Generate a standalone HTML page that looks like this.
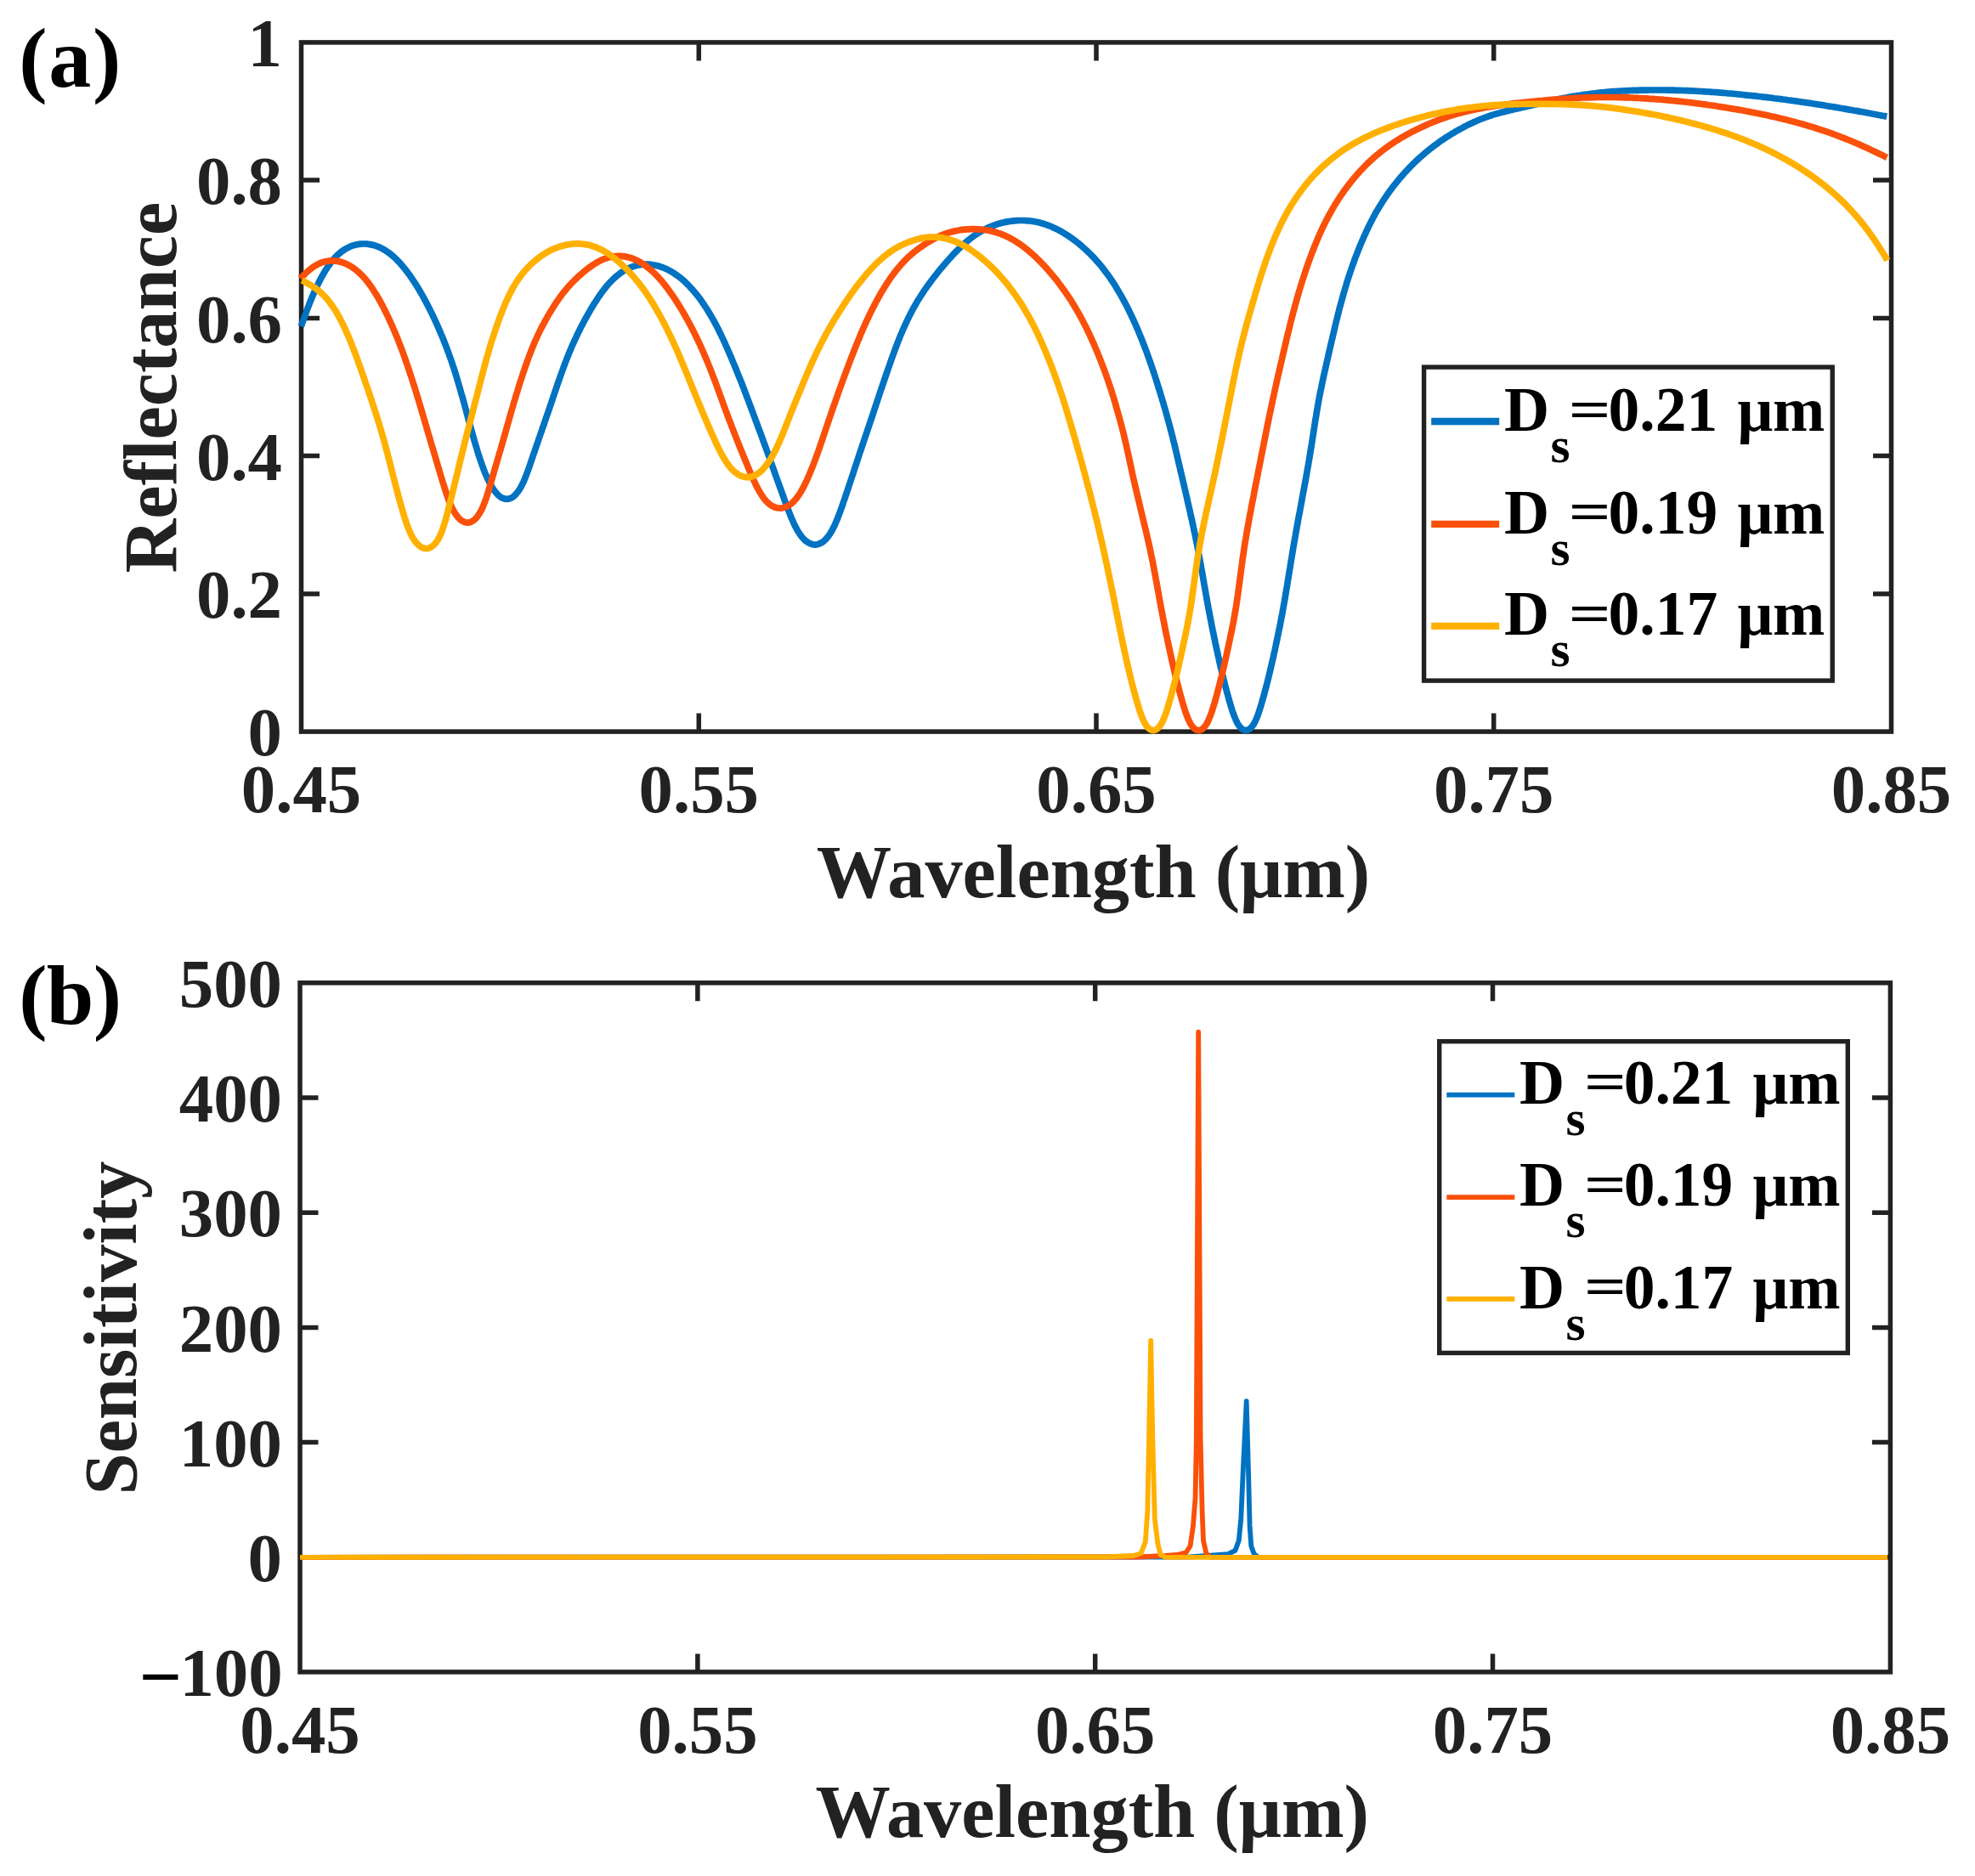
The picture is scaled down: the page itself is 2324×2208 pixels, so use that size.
<!DOCTYPE html>
<html lang="en"><head><meta charset="utf-8"><title>Reflectance and sensitivity</title>
<style>html,body{margin:0;padding:0;background:#fff}svg{display:block} text{font-family:"Liberation Serif", "DejaVu Serif", serif;font-weight:bold}</style></head><body>
<svg width="2324" height="2208" viewBox="0 0 2324 2208">
<rect width="2324" height="2208" fill="#fff"/>
<g stroke="#222222" stroke-width="5.5" fill="none" stroke-linecap="butt">
<rect x="354.5" y="49.9" width="1871.0" height="811.2"/>
<path d="M822.3,861.1 V839.6 M822.3,49.9 V71.4"/>
<path d="M1290.0,861.1 V839.6 M1290.0,49.9 V71.4"/>
<path d="M1757.7,861.1 V839.6 M1757.7,49.9 V71.4"/>
<path d="M354.5,698.9 H376.0 M2225.5,698.9 H2204.0"/>
<path d="M354.5,536.6 H376.0 M2225.5,536.6 H2204.0"/>
<path d="M354.5,374.4 H376.0 M2225.5,374.4 H2204.0"/>
<path d="M354.5,212.1 H376.0 M2225.5,212.1 H2204.0"/>
</g>
<g fill="#222222" font-size="80.8">
<text x="354.5" y="956.1" text-anchor="middle">0.45</text>
<text x="822.3" y="956.1" text-anchor="middle">0.55</text>
<text x="1290.0" y="956.1" text-anchor="middle">0.65</text>
<text x="1757.7" y="956.1" text-anchor="middle">0.75</text>
<text x="2225.5" y="956.1" text-anchor="middle">0.85</text>
<text x="332" y="889.3" text-anchor="end">0</text>
<text x="332" y="727.1" text-anchor="end">0.2</text>
<text x="332" y="564.8" text-anchor="end">0.4</text>
<text x="332" y="402.6" text-anchor="end">0.6</text>
<text x="332" y="240.3" text-anchor="end">0.8</text>
<text x="332" y="78.1" text-anchor="end">1</text>
</g>
<g fill="#222222" font-size="88.4">
<text x="1286.5" y="1055.6" text-anchor="middle">Wavelength (μm)</text>
<text transform="translate(207,456.2) rotate(-90)" text-anchor="middle">Reflectance</text>
</g>
<text x="22.2" y="101.5" font-size="100" letter-spacing="1.8" fill="#000">(a)</text>
<g fill="none" stroke-width="7.7" stroke-linejoin="round" stroke-linecap="butt">
<path stroke="#0072C2" d="M354.3,384.1 L355.2,381.6 L356.1,379.2 L357.0,376.7 L357.9,374.2 L358.8,371.7 L359.7,369.2 L360.6,366.8 L361.5,364.3 L362.4,361.8 L363.4,359.4 L364.3,356.9 L365.3,354.5 L366.3,352.0 L367.3,349.6 L368.4,347.1 L369.4,344.7 L370.5,342.3 L371.6,339.9 L372.7,337.5 L373.9,335.1 L375.0,332.7 L376.2,330.3 L377.5,327.9 L378.7,325.6 L380.0,323.3 L381.4,320.9 L382.7,318.7 L384.2,316.4 L385.6,314.2 L387.2,312.0 L388.7,309.8 L390.3,307.7 L392.0,305.6 L393.8,303.7 L395.6,301.7 L397.5,299.9 L399.4,298.2 L401.4,296.5 L403.5,295.0 L405.7,293.5 L407.9,292.2 L410.2,291.1 L412.5,290.0 L414.9,289.1 L417.4,288.4 L419.9,287.8 L422.4,287.4 L424.9,287.1 L427.5,287.0 L430.0,287.0 L432.6,287.2 L435.1,287.6 L437.7,288.1 L440.2,288.7 L442.6,289.5 L445.0,290.4 L447.4,291.4 L449.8,292.6 L452.0,293.9 L454.3,295.3 L456.4,296.8 L458.6,298.3 L460.6,300.0 L462.6,301.7 L464.6,303.5 L466.5,305.3 L468.4,307.2 L470.2,309.2 L472.0,311.2 L473.7,313.2 L475.4,315.2 L477.1,317.3 L478.7,319.4 L480.3,321.6 L481.9,323.7 L483.4,325.9 L484.9,328.1 L486.4,330.3 L487.8,332.5 L489.3,334.7 L490.7,337.0 L492.1,339.2 L493.4,341.5 L494.8,343.8 L496.1,346.1 L497.4,348.4 L498.7,350.7 L499.9,353.0 L501.2,355.3 L502.4,357.7 L503.6,360.0 L504.8,362.3 L506.0,364.7 L507.2,367.1 L508.3,369.4 L509.5,371.8 L510.6,374.2 L511.7,376.6 L512.8,379.0 L513.9,381.4 L515.0,383.8 L516.0,386.2 L517.1,388.6 L518.1,391.0 L519.1,393.5 L520.2,395.9 L521.2,398.3 L522.2,400.8 L523.1,403.2 L524.1,405.7 L525.1,408.1 L526.0,410.6 L526.9,413.1 L527.8,415.5 L528.7,418.0 L529.6,420.5 L530.5,423.0 L531.4,425.5 L532.2,428.0 L533.0,430.5 L533.9,433.0 L534.7,435.5 L535.5,438.0 L536.2,440.5 L537.0,443.0 L537.8,445.5 L538.5,448.1 L539.3,450.6 L540.0,453.1 L540.8,455.7 L541.5,458.2 L542.2,460.7 L542.9,463.3 L543.7,465.8 L544.4,468.3 L545.1,470.9 L545.8,473.4 L546.5,476.0 L547.2,478.5 L547.9,481.0 L548.6,483.6 L549.2,486.1 L549.9,488.7 L550.6,491.2 L551.3,493.8 L552.0,496.3 L552.7,498.8 L553.4,501.4 L554.1,503.9 L554.8,506.5 L555.5,509.0 L556.2,511.5 L556.9,514.1 L557.6,516.6 L558.3,519.1 L559.1,521.7 L559.8,524.2 L560.6,526.7 L561.4,529.3 L562.1,531.8 L562.9,534.3 L563.7,536.9 L564.6,539.4 L565.4,541.9 L566.3,544.5 L567.2,547.0 L568.1,549.6 L569.0,552.1 L570.0,554.7 L571.0,557.2 L572.1,559.7 L573.1,562.2 L574.3,564.7 L575.5,567.1 L576.7,569.5 L578.1,571.9 L579.5,574.2 L580.9,576.4 L582.5,578.5 L584.2,580.5 L585.9,582.4 L587.8,584.0 L589.7,585.4 L591.8,586.4 L593.9,587.1 L596.0,587.4 L598.2,587.2 L600.3,586.6 L602.3,585.7 L604.2,584.4 L606.0,582.8 L607.7,580.9 L609.3,578.9 L610.8,576.8 L612.2,574.6 L613.5,572.2 L614.7,569.8 L615.9,567.4 L617.0,564.9 L618.0,562.3 L619.0,559.8 L620.0,557.2 L620.9,554.7 L621.9,552.1 L622.8,549.5 L623.7,546.9 L624.5,544.4 L625.4,541.8 L626.3,539.3 L627.1,536.8 L628.0,534.2 L628.9,531.7 L629.7,529.2 L630.6,526.7 L631.4,524.2 L632.3,521.7 L633.2,519.2 L634.0,516.7 L634.9,514.2 L635.7,511.7 L636.6,509.2 L637.5,506.7 L638.3,504.2 L639.2,501.8 L640.1,499.3 L640.9,496.8 L641.8,494.3 L642.6,491.8 L643.5,489.3 L644.4,486.8 L645.2,484.3 L646.1,481.9 L646.9,479.4 L647.8,476.9 L648.6,474.4 L649.5,471.9 L650.3,469.4 L651.1,466.9 L652.0,464.4 L652.8,461.9 L653.7,459.4 L654.5,456.9 L655.4,454.4 L656.2,451.9 L657.1,449.4 L658.0,446.9 L658.8,444.4 L659.7,441.9 L660.6,439.5 L661.5,437.0 L662.4,434.5 L663.3,432.0 L664.2,429.6 L665.1,427.1 L666.1,424.6 L667.0,422.2 L668.0,419.7 L669.0,417.3 L669.9,414.8 L671.0,412.4 L672.0,410.0 L673.0,407.6 L674.1,405.2 L675.2,402.8 L676.2,400.4 L677.4,398.0 L678.5,395.6 L679.6,393.2 L680.8,390.9 L682.0,388.5 L683.1,386.2 L684.3,383.8 L685.6,381.5 L686.8,379.1 L688.0,376.8 L689.3,374.5 L690.6,372.2 L691.9,369.9 L693.2,367.6 L694.5,365.3 L695.8,363.0 L697.2,360.8 L698.5,358.5 L699.9,356.3 L701.4,354.1 L702.8,351.9 L704.3,349.7 L705.8,347.5 L707.3,345.3 L708.9,343.2 L710.4,341.1 L712.1,339.0 L713.7,337.0 L715.4,335.0 L717.2,333.0 L719.0,331.1 L720.9,329.2 L722.8,327.4 L724.7,325.6 L726.8,323.9 L728.8,322.3 L731.0,320.7 L733.2,319.3 L735.4,318.0 L737.8,316.7 L740.1,315.6 L742.5,314.6 L745.0,313.7 L747.5,312.9 L750.1,312.3 L752.6,311.8 L755.2,311.4 L757.8,311.2 L760.4,311.2 L763.1,311.2 L765.7,311.4 L768.3,311.7 L770.9,312.2 L773.4,312.8 L776.0,313.5 L778.4,314.3 L780.9,315.2 L783.3,316.2 L785.7,317.4 L788.0,318.6 L790.3,319.9 L792.5,321.2 L794.7,322.7 L796.9,324.2 L799.0,325.8 L801.1,327.4 L803.1,329.1 L805.1,330.8 L807.0,332.6 L808.9,334.5 L810.7,336.4 L812.5,338.3 L814.3,340.3 L816.0,342.3 L817.7,344.3 L819.4,346.3 L821.1,348.4 L822.7,350.5 L824.2,352.6 L825.8,354.8 L827.3,357.0 L828.8,359.2 L830.2,361.4 L831.7,363.6 L833.1,365.8 L834.4,368.1 L835.8,370.3 L837.1,372.6 L838.4,374.9 L839.7,377.2 L841.0,379.5 L842.2,381.9 L843.5,384.2 L844.7,386.5 L845.9,388.9 L847.0,391.3 L848.2,393.6 L849.3,396.0 L850.4,398.4 L851.6,400.8 L852.7,403.2 L853.7,405.6 L854.8,408.0 L855.9,410.4 L856.9,412.8 L858.0,415.2 L859.0,417.7 L860.1,420.1 L861.1,422.5 L862.1,424.9 L863.1,427.4 L864.1,429.8 L865.2,432.2 L866.2,434.7 L867.1,437.1 L868.1,439.6 L869.1,442.0 L870.1,444.4 L871.1,446.9 L872.1,449.3 L873.0,451.8 L874.0,454.3 L874.9,456.7 L875.9,459.2 L876.8,461.6 L877.8,464.1 L878.7,466.6 L879.6,469.0 L880.6,471.5 L881.5,474.0 L882.4,476.4 L883.3,478.9 L884.2,481.4 L885.2,483.8 L886.1,486.3 L887.0,488.8 L887.9,491.2 L888.8,493.7 L889.8,496.2 L890.7,498.7 L891.6,501.1 L892.5,503.6 L893.4,506.1 L894.4,508.5 L895.3,511.0 L896.2,513.5 L897.1,515.9 L898.0,518.4 L898.9,520.9 L899.8,523.4 L900.7,525.8 L901.6,528.3 L902.5,530.8 L903.4,533.3 L904.3,535.7 L905.2,538.2 L906.1,540.7 L906.9,543.2 L907.8,545.7 L908.7,548.1 L909.6,550.6 L910.5,553.1 L911.4,555.6 L912.2,558.1 L913.1,560.5 L914.0,563.0 L914.9,565.5 L915.8,568.0 L916.7,570.5 L917.6,572.9 L918.5,575.4 L919.4,577.9 L920.3,580.4 L921.2,582.9 L922.1,585.4 L923.0,587.9 L923.9,590.5 L924.8,593.0 L925.8,595.5 L926.7,598.0 L927.7,600.6 L928.7,603.1 L929.7,605.7 L930.7,608.2 L931.8,610.7 L932.9,613.3 L934.0,615.8 L935.2,618.3 L936.5,620.7 L937.7,623.1 L939.1,625.5 L940.5,627.7 L942.0,629.9 L943.6,632.0 L945.3,633.9 L947.1,635.7 L949.0,637.3 L951.0,638.6 L953.0,639.7 L955.2,640.5 L957.3,641.0 L959.5,641.1 L961.7,640.8 L963.9,640.1 L966.0,639.1 L968.0,637.9 L969.9,636.4 L971.7,634.7 L973.3,632.8 L974.9,630.8 L976.4,628.6 L977.8,626.4 L979.2,624.0 L980.4,621.6 L981.7,619.2 L982.8,616.7 L983.9,614.1 L985.0,611.6 L986.0,609.0 L987.0,606.4 L988.0,603.9 L988.9,601.3 L989.8,598.7 L990.8,596.2 L991.7,593.6 L992.5,591.0 L993.4,588.5 L994.3,586.0 L995.1,583.4 L996.0,580.9 L996.8,578.4 L997.7,575.9 L998.5,573.3 L999.3,570.8 L1000.2,568.3 L1001.0,565.8 L1001.8,563.3 L1002.7,560.8 L1003.5,558.3 L1004.3,555.8 L1005.1,553.3 L1005.9,550.8 L1006.8,548.3 L1007.6,545.8 L1008.4,543.3 L1009.2,540.8 L1010.1,538.3 L1010.9,535.9 L1011.7,533.4 L1012.5,530.9 L1013.4,528.4 L1014.2,525.9 L1015.1,523.4 L1015.9,520.9 L1016.7,518.4 L1017.6,515.9 L1018.4,513.4 L1019.3,510.9 L1020.1,508.4 L1021.0,505.9 L1021.8,503.4 L1022.7,500.9 L1023.5,498.4 L1024.3,495.9 L1025.2,493.4 L1026.0,490.9 L1026.9,488.4 L1027.7,485.9 L1028.5,483.4 L1029.3,480.9 L1030.2,478.4 L1031.0,475.9 L1031.8,473.4 L1032.7,470.9 L1033.5,468.4 L1034.3,465.9 L1035.1,463.4 L1036.0,460.9 L1036.8,458.4 L1037.7,455.9 L1038.5,453.4 L1039.4,450.9 L1040.2,448.4 L1041.1,445.9 L1041.9,443.4 L1042.8,440.9 L1043.6,438.4 L1044.5,435.9 L1045.3,433.4 L1046.2,431.0 L1047.1,428.5 L1047.9,426.0 L1048.8,423.5 L1049.7,421.0 L1050.6,418.5 L1051.5,416.0 L1052.4,413.6 L1053.3,411.1 L1054.2,408.6 L1055.2,406.2 L1056.1,403.7 L1057.1,401.3 L1058.1,398.8 L1059.0,396.4 L1060.0,393.9 L1061.1,391.5 L1062.1,389.1 L1063.1,386.7 L1064.2,384.3 L1065.3,381.9 L1066.4,379.5 L1067.5,377.1 L1068.7,374.7 L1069.8,372.4 L1071.0,370.0 L1072.2,367.7 L1073.5,365.4 L1074.7,363.0 L1076.0,360.8 L1077.3,358.5 L1078.6,356.2 L1079.9,353.9 L1081.3,351.7 L1082.7,349.5 L1084.1,347.3 L1085.6,345.1 L1087.0,342.9 L1088.5,340.7 L1090.0,338.6 L1091.5,336.4 L1093.1,334.3 L1094.6,332.2 L1096.2,330.0 L1097.8,327.9 L1099.4,325.9 L1101.0,323.8 L1102.7,321.7 L1104.3,319.6 L1106.0,317.6 L1107.7,315.6 L1109.4,313.5 L1111.1,311.5 L1112.8,309.5 L1114.5,307.5 L1116.3,305.5 L1118.0,303.6 L1119.8,301.6 L1121.6,299.7 L1123.4,297.7 L1125.3,295.8 L1127.1,294.0 L1129.0,292.1 L1130.9,290.3 L1132.8,288.5 L1134.8,286.7 L1136.8,285.0 L1138.8,283.3 L1140.8,281.6 L1142.9,280.0 L1145.0,278.4 L1147.2,276.9 L1149.4,275.4 L1151.6,274.0 L1153.8,272.6 L1156.1,271.3 L1158.4,270.1 L1160.8,268.9 L1163.1,267.8 L1165.6,266.8 L1168.0,265.8 L1170.5,264.9 L1173.0,264.0 L1175.5,263.2 L1178.0,262.5 L1180.6,261.9 L1183.1,261.4 L1185.7,260.9 L1188.3,260.5 L1190.9,260.1 L1193.6,259.9 L1196.2,259.7 L1198.8,259.5 L1201.5,259.5 L1204.1,259.5 L1206.7,259.6 L1209.4,259.8 L1212.0,260.0 L1214.6,260.4 L1217.2,260.8 L1219.8,261.3 L1222.3,261.8 L1224.9,262.5 L1227.4,263.2 L1229.9,264.0 L1232.4,264.9 L1234.9,265.8 L1237.3,266.8 L1239.7,267.9 L1242.1,269.0 L1244.4,270.2 L1246.8,271.4 L1249.1,272.7 L1251.4,274.0 L1253.6,275.4 L1255.8,276.8 L1258.0,278.3 L1260.2,279.8 L1262.3,281.3 L1264.5,282.9 L1266.6,284.5 L1268.6,286.1 L1270.7,287.8 L1272.7,289.5 L1274.7,291.3 L1276.6,293.0 L1278.6,294.8 L1280.5,296.6 L1282.4,298.5 L1284.2,300.3 L1286.1,302.2 L1287.9,304.2 L1289.6,306.1 L1291.4,308.1 L1293.1,310.1 L1294.8,312.1 L1296.5,314.1 L1298.1,316.2 L1299.7,318.3 L1301.3,320.4 L1302.9,322.5 L1304.4,324.6 L1306.0,326.8 L1307.4,329.0 L1308.9,331.1 L1310.4,333.3 L1311.8,335.6 L1313.2,337.8 L1314.5,340.1 L1315.9,342.3 L1317.2,344.6 L1318.6,346.9 L1319.9,349.2 L1321.1,351.5 L1322.4,353.8 L1323.6,356.1 L1324.9,358.5 L1326.1,360.8 L1327.3,363.2 L1328.4,365.5 L1329.6,367.9 L1330.7,370.3 L1331.9,372.7 L1333.0,375.0 L1334.1,377.4 L1335.2,379.8 L1336.3,382.3 L1337.3,384.7 L1338.4,387.1 L1339.4,389.5 L1340.4,391.9 L1341.4,394.4 L1342.4,396.8 L1343.4,399.3 L1344.4,401.7 L1345.3,404.2 L1346.3,406.6 L1347.2,409.1 L1348.2,411.6 L1349.1,414.0 L1350.0,416.5 L1350.9,419.0 L1351.8,421.5 L1352.6,423.9 L1353.5,426.4 L1354.4,428.9 L1355.2,431.4 L1356.1,433.9 L1356.9,436.4 L1357.8,438.9 L1358.6,441.4 L1359.4,443.9 L1360.2,446.4 L1361.0,448.9 L1361.8,451.5 L1362.6,454.0 L1363.4,456.5 L1364.2,459.0 L1365.0,461.5 L1365.7,464.0 L1366.5,466.6 L1367.3,469.1 L1368.0,471.6 L1368.8,474.1 L1369.5,476.7 L1370.2,479.2 L1371.0,481.7 L1371.7,484.3 L1372.4,486.8 L1373.1,489.3 L1373.8,491.9 L1374.5,494.4 L1375.2,497.0 L1375.9,499.5 L1376.6,502.1 L1377.2,504.6 L1377.9,507.2 L1378.6,509.7 L1379.2,512.3 L1379.9,514.8 L1380.5,517.4 L1381.1,519.9 L1381.8,522.5 L1382.4,525.0 L1383.0,527.6 L1383.6,530.2 L1384.2,532.7 L1384.8,535.3 L1385.4,537.9 L1386.0,540.4 L1386.6,543.0 L1387.2,545.6 L1387.8,548.1 L1388.4,550.7 L1389.0,553.3 L1389.6,555.8 L1390.2,558.4 L1390.8,561.0 L1391.4,563.5 L1392.0,566.1 L1392.6,568.7 L1393.2,571.2 L1393.8,573.8 L1394.4,576.4 L1395.0,578.9 L1395.6,581.5 L1396.2,584.1 L1396.8,586.6 L1397.3,589.2 L1397.9,591.8 L1398.5,594.4 L1399.1,596.9 L1399.7,599.5 L1400.3,602.1 L1400.8,604.6 L1401.4,607.2 L1402.0,609.8 L1402.6,612.4 L1403.1,614.9 L1403.7,617.5 L1404.2,620.1 L1404.8,622.7 L1405.3,625.2 L1405.9,627.8 L1406.4,630.4 L1406.9,633.0 L1407.4,635.6 L1408.0,638.1 L1408.5,640.7 L1409.0,643.3 L1409.5,645.9 L1409.9,648.5 L1410.4,651.1 L1410.9,653.7 L1411.4,656.3 L1411.9,658.9 L1412.3,661.5 L1412.8,664.0 L1413.3,666.6 L1413.7,669.2 L1414.2,671.8 L1414.7,674.4 L1415.1,677.0 L1415.6,679.6 L1416.0,682.2 L1416.5,684.8 L1416.9,687.4 L1417.4,690.0 L1417.8,692.6 L1418.3,695.2 L1418.8,697.8 L1419.2,700.4 L1419.7,703.0 L1420.1,705.6 L1420.6,708.2 L1421.1,710.8 L1421.6,713.4 L1422.0,715.9 L1422.5,718.5 L1423.0,721.1 L1423.5,723.7 L1424.0,726.3 L1424.5,728.9 L1425.0,731.5 L1425.5,734.1 L1426.0,736.7 L1426.5,739.2 L1427.0,741.8 L1427.6,744.4 L1428.1,747.0 L1428.6,749.6 L1429.2,752.1 L1429.7,754.7 L1430.2,757.3 L1430.8,759.9 L1431.3,762.5 L1431.9,765.0 L1432.5,767.6 L1433.0,770.2 L1433.6,772.8 L1434.2,775.3 L1434.7,777.9 L1435.3,780.5 L1435.9,783.0 L1436.5,785.6 L1437.1,788.2 L1437.7,790.7 L1438.3,793.3 L1439.0,795.8 L1439.6,798.4 L1440.2,800.9 L1440.9,803.5 L1441.5,806.0 L1442.2,808.6 L1442.8,811.1 L1443.5,813.7 L1444.2,816.2 L1444.9,818.8 L1445.6,821.3 L1446.3,823.9 L1447.1,826.5 L1447.8,829.1 L1448.6,831.7 L1449.4,834.3 L1450.2,836.9 L1451.1,839.5 L1452.1,842.1 L1453.1,844.7 L1454.2,847.2 L1455.3,849.7 L1456.6,852.1 L1458.0,854.2 L1459.6,856.2 L1461.2,857.7 L1463.1,858.9 L1464.9,859.5 L1466.9,859.5 L1468.8,859.0 L1470.6,857.9 L1472.3,856.3 L1473.8,854.4 L1475.3,852.3 L1476.6,849.9 L1477.7,847.5 L1478.8,844.9 L1479.9,842.3 L1480.8,839.7 L1481.7,837.1 L1482.5,834.5 L1483.3,831.9 L1484.1,829.3 L1484.9,826.7 L1485.6,824.1 L1486.3,821.6 L1487.1,819.0 L1487.8,816.5 L1488.4,813.9 L1489.1,811.4 L1489.8,808.8 L1490.4,806.3 L1491.1,803.7 L1491.7,801.2 L1492.4,798.6 L1493.0,796.1 L1493.6,793.5 L1494.2,791.0 L1494.8,788.4 L1495.4,785.8 L1496.0,783.3 L1496.6,780.7 L1497.2,778.1 L1497.8,775.6 L1498.4,773.0 L1498.9,770.4 L1499.5,767.8 L1500.1,765.3 L1500.6,762.7 L1501.2,760.1 L1501.7,757.5 L1502.3,755.0 L1502.8,752.4 L1503.3,749.8 L1503.9,747.2 L1504.4,744.6 L1504.9,742.0 L1505.5,739.5 L1506.0,736.9 L1506.5,734.3 L1507.0,731.7 L1507.5,729.1 L1508.0,726.5 L1508.5,723.9 L1509.0,721.4 L1509.4,718.8 L1509.9,716.2 L1510.4,713.6 L1510.8,711.0 L1511.3,708.4 L1511.7,705.8 L1512.2,703.2 L1512.6,700.6 L1513.1,698.0 L1513.5,695.4 L1513.9,692.8 L1514.4,690.2 L1514.8,687.6 L1515.2,685.0 L1515.6,682.4 L1516.1,679.8 L1516.5,677.2 L1516.9,674.6 L1517.3,672.0 L1517.8,669.4 L1518.2,666.8 L1518.6,664.2 L1519.0,661.6 L1519.4,659.0 L1519.9,656.4 L1520.3,653.8 L1520.7,651.2 L1521.2,648.6 L1521.6,646.0 L1522.0,643.4 L1522.5,640.8 L1522.9,638.2 L1523.4,635.6 L1523.8,633.0 L1524.3,630.4 L1524.7,627.8 L1525.2,625.2 L1525.7,622.6 L1526.1,620.0 L1526.6,617.4 L1527.1,614.8 L1527.5,612.2 L1528.0,609.6 L1528.5,607.1 L1529.0,604.5 L1529.5,601.9 L1529.9,599.3 L1530.4,596.7 L1530.9,594.1 L1531.4,591.5 L1531.9,588.9 L1532.3,586.3 L1532.8,583.7 L1533.3,581.1 L1533.8,578.5 L1534.3,576.0 L1534.7,573.4 L1535.2,570.8 L1535.7,568.2 L1536.2,565.6 L1536.6,563.0 L1537.1,560.4 L1537.6,557.8 L1538.0,555.2 L1538.5,552.6 L1538.9,550.0 L1539.4,547.4 L1539.8,544.8 L1540.3,542.2 L1540.7,539.6 L1541.2,537.0 L1541.6,534.4 L1542.0,531.8 L1542.4,529.2 L1542.9,526.6 L1543.3,524.0 L1543.7,521.4 L1544.1,518.8 L1544.5,516.2 L1544.9,513.6 L1545.3,511.0 L1545.7,508.4 L1546.1,505.8 L1546.5,503.2 L1546.9,500.6 L1547.3,498.0 L1547.7,495.4 L1548.1,492.8 L1548.6,490.2 L1549.0,487.6 L1549.4,485.0 L1549.8,482.4 L1550.3,479.9 L1550.7,477.3 L1551.2,474.7 L1551.6,472.1 L1552.1,469.5 L1552.6,466.9 L1553.1,464.3 L1553.6,461.7 L1554.1,459.2 L1554.7,456.6 L1555.2,454.0 L1555.7,451.4 L1556.3,448.9 L1556.8,446.3 L1557.4,443.7 L1557.9,441.1 L1558.5,438.6 L1559.1,436.0 L1559.7,433.4 L1560.2,430.9 L1560.8,428.3 L1561.4,425.7 L1562.0,423.2 L1562.6,420.6 L1563.1,418.0 L1563.7,415.5 L1564.3,412.9 L1564.9,410.3 L1565.5,407.7 L1566.1,405.2 L1566.7,402.6 L1567.3,400.0 L1567.9,397.5 L1568.5,394.9 L1569.1,392.3 L1569.7,389.8 L1570.3,387.2 L1570.9,384.6 L1571.5,382.1 L1572.1,379.5 L1572.7,377.0 L1573.4,374.4 L1574.0,371.8 L1574.6,369.3 L1575.3,366.7 L1575.9,364.2 L1576.6,361.6 L1577.3,359.1 L1578.0,356.5 L1578.7,354.0 L1579.4,351.4 L1580.1,348.9 L1580.8,346.4 L1581.5,343.8 L1582.3,341.3 L1583.0,338.8 L1583.8,336.3 L1584.5,333.7 L1585.3,331.2 L1586.1,328.7 L1586.9,326.2 L1587.7,323.7 L1588.6,321.2 L1589.4,318.7 L1590.3,316.2 L1591.1,313.7 L1592.0,311.2 L1592.9,308.8 L1593.8,306.3 L1594.7,303.8 L1595.6,301.3 L1596.6,298.9 L1597.5,296.4 L1598.5,294.0 L1599.5,291.5 L1600.5,289.1 L1601.5,286.6 L1602.5,284.2 L1603.6,281.8 L1604.6,279.4 L1605.7,277.0 L1606.8,274.6 L1607.9,272.2 L1609.0,269.8 L1610.1,267.4 L1611.3,265.0 L1612.5,262.7 L1613.7,260.3 L1614.9,258.0 L1616.1,255.6 L1617.4,253.3 L1618.6,251.0 L1619.9,248.7 L1621.3,246.5 L1622.6,244.2 L1624.0,241.9 L1625.4,239.7 L1626.8,237.5 L1628.2,235.3 L1629.7,233.1 L1631.2,230.9 L1632.7,228.7 L1634.2,226.6 L1635.7,224.4 L1637.3,222.3 L1638.9,220.2 L1640.5,218.1 L1642.1,216.1 L1643.8,214.0 L1645.5,212.0 L1647.1,209.9 L1648.9,207.9 L1650.6,205.9 L1652.3,204.0 L1654.1,202.0 L1655.9,200.1 L1657.7,198.2 L1659.5,196.3 L1661.4,194.4 L1663.2,192.5 L1665.1,190.7 L1667.0,188.9 L1669.0,187.1 L1670.9,185.3 L1672.9,183.6 L1674.9,181.8 L1676.9,180.1 L1678.9,178.4 L1681.0,176.8 L1683.0,175.1 L1685.1,173.5 L1687.2,171.9 L1689.3,170.3 L1691.4,168.8 L1693.6,167.2 L1695.7,165.7 L1697.9,164.2 L1700.1,162.8 L1702.3,161.3 L1704.5,159.9 L1706.8,158.5 L1709.0,157.1 L1711.3,155.8 L1713.6,154.4 L1715.9,153.1 L1718.2,151.8 L1720.5,150.6 L1722.8,149.3 L1725.2,148.1 L1727.5,146.9 L1729.9,145.8 L1732.3,144.7 L1734.7,143.6 L1737.1,142.5 L1739.5,141.5 L1741.9,140.5 L1744.3,139.5 L1746.8,138.6 L1749.3,137.7 L1751.7,136.8 L1754.2,136.0 L1756.7,135.2 L1759.2,134.4 L1761.8,133.7 L1764.3,133.0 L1766.8,132.3 L1769.4,131.7 L1771.9,131.0 L1774.5,130.4 L1777.0,129.8 L1779.6,129.2 L1782.1,128.6 L1784.7,128.0 L1787.3,127.4 L1789.8,126.8 L1792.4,126.3 L1795.0,125.7 L1797.5,125.1 L1800.1,124.5 L1802.6,123.9 L1805.2,123.3 L1807.8,122.7 L1810.3,122.1 L1812.9,121.5 L1815.4,120.9 L1818.0,120.2 L1820.5,119.6 L1823.1,119.0 L1825.6,118.5 L1828.2,117.9 L1830.8,117.3 L1833.3,116.8 L1835.9,116.2 L1838.5,115.7 L1841.0,115.2 L1843.6,114.8 L1846.2,114.3 L1848.8,113.8 L1851.4,113.4 L1853.9,113.0 L1856.5,112.6 L1859.1,112.2 L1861.7,111.8 L1864.3,111.4 L1866.9,111.0 L1869.5,110.7 L1872.1,110.3 L1874.7,110.0 L1877.3,109.7 L1880.0,109.4 L1882.6,109.1 L1885.2,108.8 L1887.8,108.6 L1890.4,108.3 L1893.0,108.1 L1895.7,107.9 L1898.3,107.7 L1900.9,107.5 L1903.6,107.3 L1906.2,107.2 L1908.8,107.0 L1911.4,106.9 L1914.1,106.8 L1916.7,106.6 L1919.3,106.5 L1922.0,106.4 L1924.6,106.4 L1927.2,106.3 L1929.9,106.2 L1932.5,106.2 L1935.2,106.1 L1937.8,106.1 L1940.4,106.0 L1943.1,106.0 L1945.7,106.0 L1948.3,106.0 L1951.0,106.0 L1953.6,106.0 L1956.2,106.0 L1958.9,106.0 L1961.5,106.1 L1964.2,106.1 L1966.8,106.2 L1969.4,106.2 L1972.1,106.3 L1974.7,106.3 L1977.3,106.4 L1980.0,106.5 L1982.6,106.6 L1985.2,106.7 L1987.9,106.8 L1990.5,106.9 L1993.1,107.0 L1995.8,107.2 L1998.4,107.3 L2001.0,107.5 L2003.7,107.6 L2006.3,107.8 L2008.9,108.0 L2011.6,108.1 L2014.2,108.3 L2016.8,108.5 L2019.4,108.7 L2022.1,108.9 L2024.7,109.1 L2027.3,109.3 L2030.0,109.5 L2032.6,109.8 L2035.2,110.0 L2037.8,110.2 L2040.5,110.5 L2043.1,110.7 L2045.7,111.0 L2048.3,111.2 L2050.9,111.5 L2053.6,111.8 L2056.2,112.1 L2058.8,112.3 L2061.4,112.6 L2064.0,112.9 L2066.7,113.2 L2069.3,113.5 L2071.9,113.8 L2074.5,114.1 L2077.1,114.4 L2079.8,114.7 L2082.4,115.0 L2085.0,115.3 L2087.6,115.7 L2090.2,116.0 L2092.8,116.3 L2095.5,116.6 L2098.1,117.0 L2100.7,117.3 L2103.3,117.7 L2105.9,118.0 L2108.5,118.4 L2111.1,118.7 L2113.7,119.1 L2116.3,119.5 L2119.0,119.9 L2121.6,120.2 L2124.2,120.6 L2126.8,121.0 L2129.4,121.4 L2132.0,121.8 L2134.6,122.2 L2137.2,122.6 L2139.8,123.0 L2142.4,123.4 L2145.0,123.8 L2147.6,124.2 L2150.2,124.7 L2152.8,125.1 L2155.4,125.5 L2158.0,125.9 L2160.6,126.4 L2163.2,126.8 L2165.8,127.3 L2168.4,127.7 L2171.0,128.1 L2173.6,128.6 L2176.2,129.1 L2178.8,129.5 L2181.4,130.0 L2184.0,130.4 L2186.6,130.9 L2189.2,131.4 L2191.8,131.8 L2194.4,132.3 L2196.9,132.8 L2199.5,133.3 L2202.1,133.8 L2204.7,134.2 L2207.3,134.7 L2209.9,135.2 L2212.5,135.7 L2215.1,136.2 L2217.7,136.6 L2220.3,137.1"/>
<path stroke="#FA500A" d="M353.4,327.8 L355.3,325.9 L357.1,324.1 L359.0,322.3 L360.8,320.5 L362.7,318.8 L364.7,317.2 L366.7,315.6 L368.8,314.1 L370.9,312.8 L373.1,311.5 L375.3,310.4 L377.6,309.4 L379.9,308.6 L382.3,308.0 L384.7,307.5 L387.1,307.1 L389.6,306.9 L392.0,306.9 L394.5,307.1 L396.9,307.4 L399.4,307.9 L401.8,308.5 L404.2,309.3 L406.5,310.2 L408.8,311.3 L411.1,312.5 L413.3,313.8 L415.4,315.2 L417.5,316.7 L419.5,318.3 L421.5,319.9 L423.4,321.7 L425.3,323.5 L427.1,325.4 L428.8,327.3 L430.5,329.3 L432.2,331.3 L433.8,333.4 L435.3,335.5 L436.8,337.6 L438.3,339.8 L439.7,342.0 L441.1,344.2 L442.5,346.4 L443.9,348.6 L445.2,350.9 L446.5,353.2 L447.7,355.4 L448.9,357.7 L450.2,360.0 L451.4,362.3 L452.5,364.6 L453.7,366.9 L454.8,369.3 L456.0,371.6 L457.1,373.9 L458.2,376.3 L459.2,378.6 L460.3,381.0 L461.3,383.3 L462.4,385.7 L463.4,388.1 L464.4,390.4 L465.4,392.8 L466.4,395.2 L467.4,397.6 L468.4,400.0 L469.3,402.4 L470.2,404.8 L471.2,407.2 L472.1,409.6 L473.0,412.0 L473.9,414.4 L474.8,416.8 L475.6,419.3 L476.5,421.7 L477.3,424.1 L478.2,426.6 L479.0,429.0 L479.9,431.4 L480.7,433.9 L481.5,436.3 L482.3,438.8 L483.1,441.2 L483.9,443.7 L484.7,446.1 L485.5,448.6 L486.3,451.1 L487.1,453.5 L487.9,456.0 L488.6,458.4 L489.4,460.9 L490.2,463.4 L490.9,465.8 L491.7,468.3 L492.4,470.8 L493.2,473.2 L493.9,475.7 L494.6,478.2 L495.4,480.6 L496.1,483.1 L496.8,485.6 L497.5,488.1 L498.3,490.5 L499.0,493.0 L499.7,495.5 L500.4,498.0 L501.2,500.4 L501.9,502.9 L502.6,505.4 L503.3,507.9 L504.0,510.3 L504.8,512.8 L505.5,515.3 L506.2,517.8 L506.9,520.2 L507.7,522.7 L508.4,525.2 L509.2,527.6 L509.9,530.1 L510.6,532.6 L511.4,535.0 L512.1,537.5 L512.8,540.0 L513.6,542.5 L514.3,544.9 L515.0,547.4 L515.8,549.9 L516.5,552.4 L517.2,554.9 L518.0,557.4 L518.7,559.9 L519.5,562.4 L520.2,564.9 L521.0,567.4 L521.8,569.9 L522.6,572.5 L523.4,575.0 L524.2,577.5 L525.0,580.1 L525.9,582.6 L526.7,585.1 L527.7,587.7 L528.6,590.2 L529.6,592.6 L530.7,595.1 L531.8,597.5 L533.0,599.9 L534.3,602.1 L535.6,604.3 L537.1,606.4 L538.6,608.4 L540.3,610.3 L542.0,611.9 L543.9,613.2 L545.8,614.2 L547.9,614.9 L549.9,615.1 L552.0,615.0 L554.0,614.4 L555.9,613.4 L557.8,612.1 L559.5,610.5 L561.1,608.7 L562.6,606.7 L564.0,604.6 L565.3,602.4 L566.6,600.1 L567.7,597.7 L568.7,595.3 L569.7,592.8 L570.7,590.3 L571.6,587.7 L572.5,585.2 L573.3,582.6 L574.1,580.1 L574.9,577.5 L575.6,574.9 L576.4,572.4 L577.1,569.8 L577.9,567.3 L578.6,564.7 L579.3,562.2 L580.1,559.7 L580.8,557.2 L581.5,554.7 L582.2,552.2 L583.0,549.7 L583.7,547.2 L584.4,544.7 L585.2,542.3 L585.9,539.8 L586.6,537.3 L587.3,534.8 L588.0,532.4 L588.8,529.9 L589.5,527.4 L590.2,524.9 L590.9,522.5 L591.6,520.0 L592.3,517.5 L593.0,515.0 L593.7,512.6 L594.4,510.1 L595.1,507.6 L595.8,505.1 L596.5,502.6 L597.2,500.2 L597.9,497.7 L598.6,495.2 L599.3,492.7 L600.0,490.2 L600.7,487.8 L601.4,485.3 L602.1,482.8 L602.9,480.3 L603.6,477.9 L604.3,475.4 L605.0,472.9 L605.8,470.4 L606.5,468.0 L607.2,465.5 L608.0,463.0 L608.8,460.6 L609.5,458.1 L610.3,455.6 L611.0,453.2 L611.8,450.7 L612.6,448.3 L613.4,445.8 L614.2,443.3 L615.0,440.9 L615.8,438.4 L616.7,436.0 L617.5,433.6 L618.3,431.1 L619.2,428.7 L620.1,426.3 L620.9,423.8 L621.8,421.4 L622.7,419.0 L623.6,416.6 L624.5,414.2 L625.5,411.8 L626.4,409.4 L627.4,407.0 L628.4,404.6 L629.4,402.2 L630.5,399.9 L631.5,397.5 L632.6,395.2 L633.7,392.9 L634.8,390.5 L636.0,388.2 L637.1,385.9 L638.3,383.6 L639.5,381.4 L640.8,379.1 L642.0,376.8 L643.3,374.6 L644.5,372.3 L645.8,370.1 L647.1,367.9 L648.5,365.7 L649.8,363.5 L651.2,361.3 L652.6,359.1 L654.0,356.9 L655.4,354.8 L656.9,352.7 L658.4,350.6 L659.9,348.5 L661.4,346.4 L663.0,344.4 L664.6,342.4 L666.3,340.4 L667.9,338.4 L669.6,336.5 L671.4,334.6 L673.2,332.7 L675.0,330.9 L676.8,329.1 L678.7,327.3 L680.5,325.5 L682.5,323.8 L684.4,322.1 L686.4,320.4 L688.4,318.7 L690.4,317.1 L692.5,315.5 L694.6,314.0 L696.7,312.5 L698.8,311.1 L701.0,309.7 L703.3,308.4 L705.6,307.2 L707.9,306.0 L710.2,305.0 L712.6,304.1 L715.1,303.3 L717.5,302.6 L720.0,302.1 L722.6,301.7 L725.1,301.5 L727.6,301.3 L730.2,301.4 L732.7,301.6 L735.2,301.9 L737.7,302.4 L740.2,303.0 L742.7,303.7 L745.1,304.6 L747.4,305.6 L749.8,306.7 L752.0,307.9 L754.3,309.2 L756.5,310.6 L758.6,312.0 L760.7,313.6 L762.7,315.1 L764.7,316.8 L766.7,318.5 L768.6,320.2 L770.5,322.0 L772.3,323.9 L774.1,325.7 L775.8,327.7 L777.5,329.6 L779.2,331.6 L780.8,333.6 L782.5,335.6 L784.0,337.6 L785.6,339.7 L787.1,341.8 L788.6,343.9 L790.1,346.0 L791.6,348.1 L793.0,350.2 L794.5,352.4 L795.9,354.6 L797.3,356.7 L798.6,358.9 L800.0,361.1 L801.3,363.3 L802.7,365.5 L804.0,367.7 L805.3,370.0 L806.5,372.2 L807.8,374.5 L809.1,376.7 L810.3,379.0 L811.5,381.2 L812.7,383.5 L813.9,385.8 L815.1,388.1 L816.3,390.4 L817.4,392.7 L818.6,395.0 L819.7,397.3 L820.8,399.7 L821.9,402.0 L823.0,404.3 L824.1,406.7 L825.2,409.0 L826.2,411.4 L827.2,413.7 L828.3,416.1 L829.3,418.5 L830.3,420.8 L831.3,423.2 L832.3,425.6 L833.3,428.0 L834.2,430.4 L835.2,432.8 L836.2,435.2 L837.1,437.6 L838.0,440.0 L838.9,442.4 L839.9,444.8 L840.8,447.2 L841.7,449.6 L842.6,452.0 L843.5,454.5 L844.4,456.9 L845.3,459.3 L846.1,461.7 L847.0,464.1 L847.9,466.6 L848.8,469.0 L849.7,471.4 L850.6,473.8 L851.4,476.3 L852.3,478.7 L853.2,481.1 L854.1,483.5 L855.0,485.9 L855.9,488.4 L856.8,490.8 L857.7,493.2 L858.6,495.6 L859.6,498.0 L860.5,500.4 L861.4,502.8 L862.3,505.2 L863.2,507.6 L864.2,510.0 L865.1,512.4 L866.1,514.8 L867.0,517.2 L868.0,519.6 L868.9,522.0 L869.9,524.4 L870.8,526.8 L871.8,529.2 L872.8,531.6 L873.7,533.9 L874.7,536.3 L875.7,538.7 L876.7,541.2 L877.7,543.6 L878.7,546.0 L879.7,548.4 L880.7,550.8 L881.7,553.2 L882.7,555.7 L883.8,558.1 L884.8,560.5 L885.9,563.0 L887.0,565.4 L888.2,567.9 L889.3,570.3 L890.5,572.7 L891.8,575.1 L893.0,577.4 L894.4,579.8 L895.8,582.0 L897.2,584.2 L898.7,586.3 L900.3,588.4 L902.0,590.3 L903.8,592.0 L905.7,593.6 L907.6,595.0 L909.7,596.1 L911.8,597.1 L914.1,597.7 L916.3,598.0 L918.6,598.1 L920.9,597.8 L923.2,597.2 L925.4,596.4 L927.5,595.3 L929.5,594.0 L931.5,592.5 L933.3,590.8 L935.1,589.0 L936.7,587.0 L938.3,585.0 L939.8,582.8 L941.3,580.6 L942.7,578.3 L944.0,576.0 L945.3,573.6 L946.5,571.2 L947.7,568.8 L948.8,566.4 L950.0,564.0 L951.0,561.6 L952.1,559.1 L953.1,556.7 L954.1,554.2 L955.1,551.8 L956.1,549.4 L957.1,546.9 L958.0,544.5 L958.9,542.1 L959.8,539.6 L960.7,537.2 L961.6,534.7 L962.5,532.3 L963.3,529.9 L964.2,527.4 L965.0,525.0 L965.8,522.5 L966.7,520.1 L967.5,517.7 L968.3,515.2 L969.1,512.8 L970.0,510.3 L970.8,507.9 L971.6,505.5 L972.4,503.0 L973.3,500.6 L974.1,498.1 L974.9,495.7 L975.7,493.3 L976.6,490.8 L977.4,488.4 L978.3,485.9 L979.1,483.5 L979.9,481.1 L980.8,478.6 L981.6,476.2 L982.5,473.8 L983.3,471.3 L984.2,468.9 L985.1,466.5 L985.9,464.0 L986.8,461.6 L987.6,459.2 L988.5,456.8 L989.4,454.3 L990.3,451.9 L991.1,449.5 L992.0,447.0 L992.9,444.6 L993.8,442.2 L994.7,439.8 L995.6,437.4 L996.5,434.9 L997.4,432.5 L998.3,430.1 L999.2,427.7 L1000.1,425.3 L1001.0,422.9 L1002.0,420.5 L1002.9,418.1 L1003.9,415.7 L1004.8,413.3 L1005.7,410.9 L1006.7,408.5 L1007.7,406.1 L1008.6,403.7 L1009.6,401.3 L1010.6,398.9 L1011.6,396.5 L1012.5,394.2 L1013.5,391.8 L1014.6,389.4 L1015.6,387.0 L1016.6,384.7 L1017.7,382.3 L1018.7,380.0 L1019.8,377.6 L1020.9,375.3 L1022.0,373.0 L1023.1,370.6 L1024.2,368.3 L1025.4,366.0 L1026.5,363.7 L1027.7,361.4 L1028.9,359.1 L1030.1,356.8 L1031.3,354.5 L1032.5,352.3 L1033.8,350.0 L1035.0,347.8 L1036.3,345.5 L1037.6,343.3 L1039.0,341.1 L1040.3,338.9 L1041.7,336.7 L1043.0,334.5 L1044.5,332.3 L1045.9,330.2 L1047.3,328.1 L1048.8,325.9 L1050.3,323.8 L1051.9,321.8 L1053.4,319.7 L1055.0,317.7 L1056.6,315.7 L1058.3,313.7 L1060.0,311.8 L1061.7,309.8 L1063.4,308.0 L1065.2,306.1 L1067.1,304.3 L1068.9,302.5 L1070.8,300.8 L1072.8,299.1 L1074.7,297.4 L1076.8,295.8 L1078.8,294.2 L1080.9,292.7 L1082.9,291.2 L1085.1,289.7 L1087.2,288.2 L1089.3,286.8 L1091.5,285.4 L1093.7,284.1 L1096.0,282.8 L1098.2,281.5 L1100.5,280.3 L1102.8,279.2 L1105.2,278.1 L1107.5,277.1 L1109.9,276.1 L1112.3,275.2 L1114.7,274.4 L1117.2,273.6 L1119.7,272.9 L1122.2,272.3 L1124.7,271.7 L1127.2,271.2 L1129.7,270.8 L1132.3,270.4 L1134.9,270.1 L1137.4,269.9 L1140.0,269.8 L1142.6,269.7 L1145.2,269.6 L1147.8,269.7 L1150.3,269.8 L1152.9,269.9 L1155.5,270.2 L1158.0,270.5 L1160.6,270.8 L1163.1,271.3 L1165.7,271.8 L1168.2,272.4 L1170.6,273.0 L1173.1,273.8 L1175.5,274.6 L1177.9,275.4 L1180.3,276.4 L1182.7,277.4 L1185.0,278.5 L1187.3,279.6 L1189.6,280.9 L1191.8,282.1 L1194.1,283.4 L1196.2,284.8 L1198.4,286.2 L1200.5,287.7 L1202.6,289.2 L1204.7,290.7 L1206.7,292.3 L1208.8,293.9 L1210.8,295.6 L1212.7,297.2 L1214.7,299.0 L1216.6,300.7 L1218.5,302.4 L1220.3,304.2 L1222.2,306.0 L1224.0,307.9 L1225.8,309.7 L1227.6,311.6 L1229.4,313.5 L1231.1,315.4 L1232.8,317.3 L1234.5,319.2 L1236.2,321.2 L1237.9,323.2 L1239.5,325.2 L1241.2,327.2 L1242.8,329.2 L1244.4,331.2 L1245.9,333.3 L1247.5,335.3 L1249.0,337.4 L1250.5,339.5 L1252.0,341.6 L1253.5,343.7 L1255.0,345.8 L1256.4,347.9 L1257.9,350.1 L1259.3,352.2 L1260.7,354.4 L1262.0,356.6 L1263.4,358.8 L1264.7,361.0 L1266.0,363.2 L1267.3,365.4 L1268.6,367.7 L1269.9,369.9 L1271.1,372.2 L1272.4,374.4 L1273.6,376.7 L1274.8,379.0 L1275.9,381.3 L1277.1,383.6 L1278.3,385.9 L1279.4,388.2 L1280.5,390.5 L1281.6,392.9 L1282.7,395.2 L1283.8,397.6 L1284.9,399.9 L1285.9,402.3 L1287.0,404.6 L1288.0,407.0 L1289.0,409.4 L1290.0,411.7 L1291.0,414.1 L1292.0,416.5 L1293.0,418.9 L1293.9,421.3 L1294.9,423.7 L1295.8,426.1 L1296.7,428.5 L1297.7,430.9 L1298.6,433.3 L1299.5,435.7 L1300.4,438.1 L1301.2,440.6 L1302.1,443.0 L1302.9,445.4 L1303.8,447.9 L1304.6,450.3 L1305.4,452.8 L1306.3,455.2 L1307.1,457.7 L1307.9,460.1 L1308.6,462.6 L1309.4,465.0 L1310.2,467.5 L1310.9,470.0 L1311.7,472.4 L1312.4,474.9 L1313.1,477.4 L1313.8,479.9 L1314.5,482.3 L1315.2,484.8 L1315.9,487.3 L1316.6,489.8 L1317.3,492.3 L1318.0,494.8 L1318.7,497.3 L1319.3,499.8 L1320.0,502.2 L1320.6,504.7 L1321.3,507.2 L1321.9,509.7 L1322.5,512.2 L1323.1,514.8 L1323.7,517.3 L1324.3,519.8 L1324.9,522.3 L1325.5,524.8 L1326.0,527.3 L1326.6,529.8 L1327.1,532.3 L1327.7,534.9 L1328.2,537.4 L1328.8,539.9 L1329.3,542.4 L1329.8,545.0 L1330.4,547.5 L1330.9,550.0 L1331.5,552.5 L1332.0,555.0 L1332.5,557.6 L1333.1,560.1 L1333.6,562.6 L1334.2,565.1 L1334.8,567.6 L1335.4,570.1 L1335.9,572.7 L1336.5,575.2 L1337.1,577.7 L1337.7,580.2 L1338.3,582.7 L1338.9,585.2 L1339.5,587.7 L1340.1,590.2 L1340.7,592.7 L1341.3,595.2 L1341.9,597.8 L1342.5,600.3 L1343.1,602.8 L1343.7,605.3 L1344.3,607.8 L1344.9,610.3 L1345.5,612.8 L1346.1,615.3 L1346.7,617.8 L1347.3,620.3 L1347.9,622.8 L1348.5,625.3 L1349.1,627.9 L1349.7,630.4 L1350.2,632.9 L1350.8,635.4 L1351.4,637.9 L1351.9,640.4 L1352.5,642.9 L1353.0,645.5 L1353.6,648.0 L1354.1,650.5 L1354.6,653.0 L1355.2,655.6 L1355.7,658.1 L1356.2,660.6 L1356.7,663.1 L1357.2,665.7 L1357.7,668.2 L1358.1,670.7 L1358.6,673.3 L1359.1,675.8 L1359.6,678.3 L1360.0,680.9 L1360.5,683.4 L1361.0,685.9 L1361.4,688.5 L1361.9,691.0 L1362.3,693.6 L1362.8,696.1 L1363.3,698.6 L1363.7,701.2 L1364.2,703.7 L1364.6,706.2 L1365.1,708.8 L1365.6,711.3 L1366.0,713.9 L1366.5,716.4 L1367.0,718.9 L1367.5,721.5 L1367.9,724.0 L1368.4,726.5 L1368.9,729.1 L1369.4,731.6 L1369.9,734.1 L1370.4,736.7 L1370.9,739.2 L1371.4,741.7 L1371.9,744.2 L1372.4,746.8 L1373.0,749.3 L1373.5,751.8 L1374.0,754.3 L1374.6,756.9 L1375.1,759.4 L1375.6,761.9 L1376.2,764.4 L1376.7,767.0 L1377.3,769.5 L1377.8,772.0 L1378.4,774.5 L1378.9,777.0 L1379.5,779.5 L1380.1,782.0 L1380.7,784.6 L1381.3,787.1 L1381.8,789.6 L1382.4,792.1 L1383.0,794.6 L1383.7,797.1 L1384.3,799.6 L1384.9,802.1 L1385.5,804.6 L1386.2,807.1 L1386.8,809.6 L1387.5,812.0 L1388.1,814.5 L1388.8,817.0 L1389.5,819.5 L1390.2,822.0 L1390.9,824.5 L1391.6,827.1 L1392.4,829.6 L1393.1,832.2 L1393.9,834.7 L1394.8,837.3 L1395.6,839.8 L1396.6,842.4 L1397.5,844.9 L1398.6,847.4 L1399.8,849.8 L1401.0,852.1 L1402.4,854.2 L1403.9,856.1 L1405.6,857.7 L1407.3,858.8 L1409.2,859.5 L1411.1,859.6 L1412.9,859.1 L1414.7,858.1 L1416.4,856.6 L1417.9,854.8 L1419.4,852.8 L1420.7,850.5 L1421.8,848.1 L1422.9,845.7 L1423.9,843.1 L1424.9,840.6 L1425.8,838.0 L1426.6,835.5 L1427.4,832.9 L1428.2,830.4 L1429.0,827.8 L1429.7,825.3 L1430.4,822.8 L1431.1,820.3 L1431.8,817.8 L1432.5,815.3 L1433.1,812.8 L1433.8,810.3 L1434.4,807.8 L1435.1,805.3 L1435.7,802.8 L1436.3,800.3 L1437.0,797.8 L1437.6,795.3 L1438.2,792.8 L1438.8,790.3 L1439.4,787.8 L1440.0,785.3 L1440.5,782.8 L1441.1,780.3 L1441.7,777.8 L1442.2,775.3 L1442.8,772.8 L1443.4,770.2 L1443.9,767.7 L1444.5,765.2 L1445.0,762.7 L1445.6,760.2 L1446.1,757.6 L1446.6,755.1 L1447.2,752.6 L1447.7,750.1 L1448.2,747.5 L1448.8,745.0 L1449.3,742.5 L1449.8,740.0 L1450.3,737.4 L1450.8,734.9 L1451.3,732.4 L1451.8,729.8 L1452.2,727.3 L1452.7,724.8 L1453.1,722.2 L1453.5,719.7 L1454.0,717.1 L1454.4,714.6 L1454.8,712.0 L1455.2,709.5 L1455.6,706.9 L1455.9,704.4 L1456.3,701.8 L1456.7,699.3 L1457.0,696.7 L1457.4,694.2 L1457.7,691.6 L1458.1,689.1 L1458.4,686.5 L1458.7,684.0 L1459.1,681.4 L1459.4,678.8 L1459.8,676.3 L1460.1,673.7 L1460.4,671.2 L1460.8,668.6 L1461.1,666.1 L1461.5,663.5 L1461.8,660.9 L1462.2,658.4 L1462.5,655.8 L1462.9,653.3 L1463.3,650.7 L1463.6,648.2 L1464.0,645.6 L1464.4,643.1 L1464.8,640.5 L1465.2,638.0 L1465.6,635.4 L1466.1,632.9 L1466.5,630.4 L1466.9,627.8 L1467.4,625.3 L1467.8,622.7 L1468.2,620.2 L1468.7,617.7 L1469.2,615.1 L1469.6,612.6 L1470.1,610.0 L1470.5,607.5 L1471.0,605.0 L1471.5,602.4 L1472.0,599.9 L1472.4,597.4 L1472.9,594.8 L1473.4,592.3 L1473.9,589.8 L1474.4,587.2 L1474.9,584.7 L1475.4,582.2 L1475.8,579.6 L1476.3,577.1 L1476.8,574.6 L1477.3,572.0 L1477.8,569.5 L1478.3,567.0 L1478.8,564.4 L1479.3,561.9 L1479.8,559.4 L1480.3,556.9 L1480.8,554.3 L1481.3,551.8 L1481.8,549.3 L1482.3,546.7 L1482.8,544.2 L1483.3,541.7 L1483.8,539.1 L1484.3,536.6 L1484.8,534.1 L1485.3,531.5 L1485.8,529.0 L1486.3,526.5 L1486.8,524.0 L1487.3,521.4 L1487.8,518.9 L1488.3,516.4 L1488.8,513.8 L1489.3,511.3 L1489.8,508.8 L1490.3,506.3 L1490.8,503.7 L1491.3,501.2 L1491.9,498.7 L1492.4,496.1 L1492.9,493.6 L1493.4,491.1 L1493.9,488.6 L1494.4,486.0 L1495.0,483.5 L1495.5,481.0 L1496.0,478.5 L1496.6,475.9 L1497.1,473.4 L1497.6,470.9 L1498.2,468.4 L1498.7,465.9 L1499.3,463.3 L1499.8,460.8 L1500.4,458.3 L1500.9,455.8 L1501.5,453.3 L1502.0,450.7 L1502.6,448.2 L1503.2,445.7 L1503.7,443.2 L1504.3,440.7 L1504.9,438.2 L1505.5,435.7 L1506.0,433.1 L1506.6,430.6 L1507.2,428.1 L1507.8,425.6 L1508.4,423.1 L1508.9,420.6 L1509.5,418.1 L1510.1,415.6 L1510.7,413.0 L1511.3,410.5 L1511.9,408.0 L1512.5,405.5 L1513.1,403.0 L1513.6,400.5 L1514.2,398.0 L1514.8,395.5 L1515.4,393.0 L1516.1,390.5 L1516.7,387.9 L1517.3,385.4 L1517.9,382.9 L1518.5,380.4 L1519.1,377.9 L1519.8,375.4 L1520.4,372.9 L1521.1,370.4 L1521.7,367.9 L1522.4,365.5 L1523.0,363.0 L1523.7,360.5 L1524.4,358.0 L1525.1,355.5 L1525.8,353.0 L1526.5,350.5 L1527.2,348.1 L1527.9,345.6 L1528.6,343.1 L1529.4,340.6 L1530.1,338.2 L1530.9,335.7 L1531.6,333.2 L1532.4,330.8 L1533.2,328.3 L1534.0,325.9 L1534.8,323.4 L1535.6,321.0 L1536.4,318.5 L1537.2,316.1 L1538.1,313.6 L1538.9,311.2 L1539.8,308.8 L1540.6,306.3 L1541.5,303.9 L1542.4,301.5 L1543.3,299.1 L1544.2,296.7 L1545.2,294.2 L1546.1,291.8 L1547.0,289.4 L1548.0,287.1 L1549.0,284.7 L1550.0,282.3 L1551.0,279.9 L1552.0,277.5 L1553.1,275.2 L1554.1,272.8 L1555.2,270.5 L1556.3,268.2 L1557.4,265.8 L1558.6,263.5 L1559.7,261.2 L1560.9,258.9 L1562.1,256.6 L1563.3,254.3 L1564.5,252.1 L1565.8,249.8 L1567.0,247.6 L1568.3,245.3 L1569.6,243.1 L1570.9,240.9 L1572.3,238.7 L1573.7,236.5 L1575.1,234.3 L1576.5,232.2 L1577.9,230.0 L1579.4,227.9 L1580.8,225.8 L1582.3,223.7 L1583.9,221.6 L1585.4,219.5 L1587.0,217.5 L1588.6,215.5 L1590.2,213.4 L1591.8,211.4 L1593.4,209.5 L1595.1,207.5 L1596.8,205.5 L1598.5,203.6 L1600.2,201.7 L1602.0,199.8 L1603.8,197.9 L1605.6,196.1 L1607.4,194.2 L1609.2,192.4 L1611.1,190.6 L1613.0,188.9 L1614.9,187.1 L1616.8,185.4 L1618.7,183.7 L1620.7,182.1 L1622.7,180.4 L1624.7,178.8 L1626.7,177.2 L1628.8,175.6 L1630.8,174.1 L1632.9,172.6 L1635.0,171.1 L1637.2,169.7 L1639.3,168.2 L1641.5,166.8 L1643.6,165.4 L1645.8,164.1 L1648.0,162.7 L1650.3,161.4 L1652.5,160.1 L1654.7,158.9 L1657.0,157.6 L1659.3,156.4 L1661.6,155.2 L1663.9,154.0 L1666.2,152.8 L1668.5,151.7 L1670.8,150.6 L1673.1,149.5 L1675.5,148.4 L1677.8,147.4 L1680.2,146.3 L1682.6,145.3 L1685.0,144.3 L1687.3,143.3 L1689.7,142.4 L1692.1,141.4 L1694.6,140.5 L1697.0,139.6 L1699.4,138.8 L1701.8,137.9 L1704.3,137.1 L1706.7,136.3 L1709.2,135.6 L1711.7,134.8 L1714.2,134.1 L1716.6,133.4 L1719.1,132.8 L1721.6,132.1 L1724.1,131.5 L1726.6,130.9 L1729.1,130.3 L1731.7,129.7 L1734.2,129.2 L1736.7,128.6 L1739.2,128.1 L1741.8,127.6 L1744.3,127.1 L1746.8,126.7 L1749.4,126.2 L1751.9,125.8 L1754.4,125.4 L1757.0,125.0 L1759.5,124.6 L1762.1,124.3 L1764.6,123.9 L1767.2,123.6 L1769.7,123.2 L1772.3,122.9 L1774.9,122.6 L1777.4,122.2 L1780.0,121.9 L1782.5,121.6 L1785.1,121.3 L1787.6,121.1 L1790.2,120.8 L1792.8,120.5 L1795.3,120.2 L1797.9,120.0 L1800.5,119.7 L1803.0,119.5 L1805.6,119.2 L1808.2,119.0 L1810.7,118.7 L1813.3,118.5 L1815.9,118.3 L1818.4,118.0 L1821.0,117.8 L1823.6,117.6 L1826.1,117.4 L1828.7,117.2 L1831.3,117.0 L1833.8,116.8 L1836.4,116.6 L1839.0,116.4 L1841.5,116.2 L1844.1,116.0 L1846.7,115.8 L1849.3,115.7 L1851.8,115.5 L1854.4,115.4 L1857.0,115.3 L1859.6,115.1 L1862.1,115.0 L1864.7,114.9 L1867.3,114.8 L1869.9,114.8 L1872.4,114.7 L1875.0,114.6 L1877.6,114.6 L1880.2,114.5 L1882.8,114.5 L1885.3,114.5 L1887.9,114.5 L1890.5,114.5 L1893.1,114.5 L1895.6,114.5 L1898.2,114.5 L1900.8,114.5 L1903.4,114.6 L1906.0,114.6 L1908.5,114.7 L1911.1,114.8 L1913.7,114.9 L1916.3,114.9 L1918.8,115.0 L1921.4,115.1 L1924.0,115.3 L1926.6,115.4 L1929.2,115.5 L1931.7,115.6 L1934.3,115.8 L1936.9,115.9 L1939.5,116.1 L1942.0,116.3 L1944.6,116.4 L1947.2,116.6 L1949.7,116.8 L1952.3,117.0 L1954.9,117.2 L1957.5,117.4 L1960.0,117.7 L1962.6,117.9 L1965.2,118.1 L1967.7,118.4 L1970.3,118.6 L1972.9,118.9 L1975.4,119.2 L1978.0,119.4 L1980.6,119.7 L1983.1,120.0 L1985.7,120.3 L1988.2,120.6 L1990.8,120.9 L1993.4,121.2 L1995.9,121.6 L1998.5,121.9 L2001.0,122.2 L2003.6,122.6 L2006.1,122.9 L2008.7,123.3 L2011.3,123.7 L2013.8,124.0 L2016.4,124.4 L2018.9,124.8 L2021.5,125.2 L2024.0,125.6 L2026.6,126.0 L2029.1,126.4 L2031.7,126.8 L2034.2,127.2 L2036.7,127.6 L2039.3,128.1 L2041.8,128.5 L2044.4,128.9 L2046.9,129.4 L2049.5,129.8 L2052.0,130.3 L2054.5,130.8 L2057.1,131.2 L2059.6,131.7 L2062.1,132.2 L2064.7,132.7 L2067.2,133.2 L2069.7,133.7 L2072.2,134.2 L2074.8,134.8 L2077.3,135.3 L2079.8,135.8 L2082.3,136.4 L2084.9,137.0 L2087.4,137.5 L2089.9,138.1 L2092.4,138.7 L2094.9,139.3 L2097.4,139.9 L2099.9,140.5 L2102.4,141.1 L2104.9,141.8 L2107.4,142.4 L2109.9,143.1 L2112.4,143.7 L2114.9,144.4 L2117.4,145.1 L2119.9,145.8 L2122.3,146.5 L2124.8,147.2 L2127.3,148.0 L2129.8,148.7 L2132.2,149.4 L2134.7,150.2 L2137.2,151.0 L2139.6,151.8 L2142.1,152.6 L2144.5,153.4 L2147.0,154.2 L2149.4,155.0 L2151.8,155.9 L2154.3,156.7 L2156.7,157.6 L2159.1,158.5 L2161.5,159.4 L2163.9,160.3 L2166.3,161.2 L2168.7,162.2 L2171.1,163.1 L2173.5,164.1 L2175.9,165.0 L2178.3,166.0 L2180.7,167.0 L2183.0,168.0 L2185.4,169.0 L2187.8,170.1 L2190.1,171.1 L2192.5,172.2 L2194.8,173.2 L2197.2,174.3 L2199.5,175.4 L2201.9,176.5 L2204.2,177.6 L2206.5,178.7 L2208.8,179.8 L2211.2,180.9 L2213.5,182.0 L2215.8,183.1 L2218.1,184.3 L2220.5,185.4"/>
<path stroke="#FFB000" d="M355.3,329.9 L357.6,331.1 L359.8,332.3 L362.1,333.6 L364.3,334.8 L366.4,336.1 L368.6,337.5 L370.6,338.9 L372.7,340.4 L374.7,342.0 L376.6,343.6 L378.5,345.3 L380.3,347.1 L382.1,348.9 L383.9,350.8 L385.5,352.7 L387.1,354.7 L388.7,356.8 L390.2,358.9 L391.7,361.0 L393.1,363.1 L394.5,365.3 L395.9,367.6 L397.2,369.8 L398.5,372.1 L399.7,374.3 L400.9,376.7 L402.1,379.0 L403.3,381.3 L404.4,383.7 L405.5,386.0 L406.6,388.4 L407.7,390.8 L408.7,393.1 L409.8,395.5 L410.8,397.9 L411.8,400.3 L412.8,402.7 L413.7,405.1 L414.7,407.6 L415.6,410.0 L416.6,412.4 L417.5,414.8 L418.4,417.3 L419.3,419.7 L420.2,422.1 L421.1,424.6 L422.0,427.0 L422.8,429.5 L423.7,431.9 L424.6,434.4 L425.4,436.8 L426.3,439.2 L427.1,441.7 L428.0,444.1 L428.9,446.6 L429.7,449.1 L430.5,451.5 L431.4,454.0 L432.2,456.4 L433.1,458.9 L433.9,461.3 L434.7,463.8 L435.6,466.2 L436.4,468.7 L437.2,471.2 L438.0,473.6 L438.8,476.1 L439.6,478.5 L440.4,481.0 L441.2,483.5 L442.0,485.9 L442.8,488.4 L443.6,490.9 L444.4,493.3 L445.1,495.8 L445.9,498.3 L446.7,500.7 L447.4,503.2 L448.1,505.7 L448.9,508.2 L449.6,510.7 L450.3,513.2 L451.0,515.6 L451.7,518.1 L452.4,520.6 L453.1,523.1 L453.7,525.6 L454.4,528.1 L455.1,530.6 L455.7,533.1 L456.4,535.6 L457.0,538.1 L457.7,540.6 L458.3,543.1 L459.0,545.6 L459.6,548.1 L460.2,550.6 L460.9,553.1 L461.5,555.7 L462.2,558.2 L462.8,560.7 L463.5,563.2 L464.1,565.7 L464.8,568.2 L465.4,570.8 L466.1,573.3 L466.7,575.8 L467.4,578.3 L468.1,580.9 L468.7,583.4 L469.4,585.9 L470.1,588.5 L470.8,591.0 L471.5,593.6 L472.2,596.1 L473.0,598.7 L473.7,601.2 L474.5,603.8 L475.3,606.4 L476.0,609.0 L476.9,611.5 L477.7,614.1 L478.6,616.7 L479.5,619.2 L480.5,621.7 L481.5,624.2 L482.6,626.7 L483.7,629.1 L484.9,631.5 L486.2,633.7 L487.6,635.9 L489.1,637.9 L490.7,639.8 L492.5,641.5 L494.3,643.0 L496.2,644.2 L498.2,645.1 L500.3,645.5 L502.4,645.6 L504.5,645.2 L506.5,644.4 L508.3,643.2 L510.1,641.8 L511.8,640.1 L513.3,638.1 L514.8,636.0 L516.1,633.8 L517.3,631.5 L518.4,629.1 L519.4,626.7 L520.4,624.2 L521.3,621.6 L522.1,619.1 L522.9,616.5 L523.7,613.9 L524.5,611.3 L525.2,608.7 L525.9,606.1 L526.6,603.5 L527.2,600.9 L527.9,598.3 L528.5,595.8 L529.2,593.2 L529.8,590.6 L530.4,588.1 L531.1,585.5 L531.7,583.0 L532.3,580.5 L532.9,577.9 L533.6,575.4 L534.2,572.9 L534.8,570.3 L535.4,567.8 L536.0,565.3 L536.6,562.8 L537.3,560.3 L537.9,557.8 L538.5,555.2 L539.1,552.7 L539.7,550.2 L540.3,547.7 L540.9,545.2 L541.5,542.7 L542.1,540.1 L542.8,537.6 L543.4,535.1 L544.0,532.6 L544.6,530.1 L545.2,527.6 L545.9,525.1 L546.5,522.5 L547.1,520.0 L547.8,517.5 L548.4,515.0 L549.0,512.5 L549.7,510.0 L550.3,507.5 L551.0,505.0 L551.6,502.4 L552.3,499.9 L552.9,497.4 L553.6,494.9 L554.2,492.4 L554.9,489.9 L555.5,487.4 L556.2,484.9 L556.8,482.4 L557.5,479.9 L558.1,477.3 L558.8,474.8 L559.4,472.3 L560.1,469.8 L560.7,467.3 L561.4,464.8 L562.0,462.3 L562.7,459.8 L563.3,457.2 L563.9,454.7 L564.6,452.2 L565.2,449.7 L565.9,447.2 L566.5,444.7 L567.2,442.2 L567.8,439.7 L568.5,437.2 L569.2,434.7 L569.8,432.1 L570.5,429.6 L571.2,427.1 L571.9,424.6 L572.5,422.1 L573.2,419.6 L574.0,417.1 L574.7,414.7 L575.4,412.2 L576.1,409.7 L576.9,407.2 L577.6,404.7 L578.4,402.2 L579.2,399.8 L580.0,397.3 L580.8,394.8 L581.6,392.3 L582.4,389.9 L583.2,387.4 L584.1,385.0 L584.9,382.5 L585.8,380.1 L586.6,377.6 L587.5,375.2 L588.4,372.7 L589.4,370.3 L590.3,367.9 L591.2,365.5 L592.2,363.0 L593.2,360.6 L594.2,358.2 L595.2,355.9 L596.3,353.5 L597.4,351.1 L598.5,348.8 L599.6,346.4 L600.8,344.1 L601.9,341.8 L603.2,339.5 L604.5,337.3 L605.8,335.1 L607.1,332.9 L608.5,330.7 L610.0,328.5 L611.5,326.4 L613.0,324.4 L614.6,322.3 L616.3,320.3 L617.9,318.3 L619.7,316.4 L621.4,314.5 L623.3,312.6 L625.1,310.8 L627.0,309.1 L629.0,307.4 L631.0,305.7 L633.0,304.1 L635.1,302.5 L637.2,301.0 L639.3,299.6 L641.5,298.2 L643.8,296.9 L646.0,295.6 L648.3,294.4 L650.7,293.3 L653.1,292.3 L655.5,291.4 L657.9,290.5 L660.4,289.7 L662.9,289.0 L665.4,288.4 L668.0,287.9 L670.5,287.5 L673.1,287.2 L675.7,287.0 L678.3,286.9 L680.9,286.9 L683.5,287.0 L686.0,287.3 L688.6,287.6 L691.1,288.0 L693.6,288.6 L696.1,289.3 L698.6,290.1 L701.0,290.9 L703.4,291.9 L705.8,293.0 L708.1,294.1 L710.4,295.4 L712.6,296.7 L714.8,298.1 L717.0,299.5 L719.1,301.0 L721.2,302.6 L723.2,304.1 L725.3,305.8 L727.2,307.5 L729.2,309.2 L731.1,310.9 L733.0,312.7 L734.9,314.5 L736.8,316.3 L738.6,318.2 L740.4,320.1 L742.1,322.0 L743.9,323.9 L745.6,325.8 L747.3,327.8 L748.9,329.8 L750.6,331.8 L752.2,333.8 L753.8,335.9 L755.3,338.0 L756.9,340.0 L758.4,342.2 L759.9,344.3 L761.3,346.4 L762.8,348.6 L764.2,350.7 L765.6,352.9 L767.0,355.1 L768.4,357.3 L769.7,359.5 L771.0,361.8 L772.3,364.0 L773.6,366.3 L774.9,368.5 L776.2,370.8 L777.4,373.0 L778.6,375.3 L779.9,377.6 L781.1,379.9 L782.3,382.2 L783.4,384.5 L784.6,386.8 L785.8,389.2 L786.9,391.5 L788.0,393.8 L789.2,396.2 L790.3,398.5 L791.4,400.9 L792.4,403.2 L793.5,405.6 L794.6,407.9 L795.7,410.3 L796.7,412.7 L797.8,415.1 L798.8,417.4 L799.8,419.8 L800.8,422.2 L801.8,424.6 L802.8,427.0 L803.8,429.4 L804.8,431.8 L805.8,434.2 L806.8,436.6 L807.8,439.0 L808.8,441.4 L809.8,443.8 L810.7,446.2 L811.7,448.6 L812.7,451.0 L813.7,453.4 L814.6,455.8 L815.6,458.2 L816.6,460.6 L817.6,463.0 L818.5,465.4 L819.5,467.8 L820.5,470.2 L821.5,472.6 L822.5,475.0 L823.5,477.4 L824.5,479.7 L825.4,482.1 L826.4,484.5 L827.4,486.9 L828.4,489.3 L829.5,491.7 L830.5,494.1 L831.5,496.4 L832.5,498.8 L833.5,501.2 L834.6,503.6 L835.6,506.0 L836.7,508.4 L837.7,510.7 L838.8,513.1 L839.9,515.5 L841.0,517.9 L842.1,520.3 L843.2,522.7 L844.3,525.1 L845.5,527.5 L846.7,529.9 L847.9,532.2 L849.2,534.6 L850.5,537.0 L851.8,539.3 L853.2,541.6 L854.7,543.9 L856.2,546.1 L857.8,548.2 L859.4,550.3 L861.2,552.2 L863.0,554.1 L864.9,555.7 L866.9,557.3 L868.9,558.6 L871.1,559.7 L873.3,560.6 L875.6,561.2 L877.9,561.6 L880.3,561.6 L882.6,561.4 L884.9,560.8 L887.2,560.0 L889.3,559.0 L891.4,557.7 L893.5,556.2 L895.4,554.6 L897.3,552.8 L899.0,550.9 L900.7,548.8 L902.3,546.7 L903.9,544.6 L905.4,542.3 L906.8,540.1 L908.2,537.8 L909.5,535.5 L910.8,533.1 L912.0,530.7 L913.2,528.4 L914.4,526.0 L915.5,523.6 L916.6,521.1 L917.6,518.7 L918.7,516.3 L919.7,513.9 L920.7,511.5 L921.7,509.1 L922.7,506.6 L923.6,504.2 L924.6,501.8 L925.5,499.4 L926.5,497.0 L927.4,494.6 L928.4,492.1 L929.3,489.7 L930.3,487.3 L931.2,484.9 L932.2,482.5 L933.1,480.1 L934.1,477.7 L935.1,475.3 L936.1,472.9 L937.0,470.5 L938.0,468.1 L939.0,465.7 L940.0,463.3 L941.0,460.9 L942.0,458.5 L943.0,456.1 L944.0,453.7 L944.9,451.3 L945.9,448.9 L946.9,446.5 L948.0,444.1 L949.0,441.7 L950.0,439.4 L951.0,437.0 L952.0,434.6 L953.1,432.2 L954.1,429.8 L955.2,427.5 L956.2,425.1 L957.3,422.8 L958.4,420.4 L959.5,418.0 L960.6,415.7 L961.7,413.4 L962.9,411.0 L964.0,408.7 L965.2,406.4 L966.3,404.1 L967.5,401.8 L968.7,399.5 L969.9,397.2 L971.2,394.9 L972.4,392.6 L973.7,390.3 L974.9,388.1 L976.2,385.8 L977.5,383.6 L978.8,381.3 L980.1,379.1 L981.4,376.9 L982.8,374.7 L984.1,372.5 L985.5,370.2 L986.9,368.0 L988.3,365.9 L989.7,363.7 L991.1,361.5 L992.5,359.3 L993.9,357.1 L995.3,355.0 L996.8,352.8 L998.3,350.7 L999.7,348.6 L1001.2,346.4 L1002.7,344.3 L1004.2,342.2 L1005.8,340.1 L1007.3,338.0 L1008.9,336.0 L1010.5,333.9 L1012.1,331.9 L1013.7,329.8 L1015.3,327.8 L1017.0,325.8 L1018.6,323.8 L1020.3,321.8 L1022.0,319.9 L1023.7,317.9 L1025.5,316.0 L1027.3,314.1 L1029.1,312.3 L1030.9,310.4 L1032.8,308.6 L1034.7,306.8 L1036.6,305.1 L1038.6,303.4 L1040.5,301.7 L1042.6,300.1 L1044.6,298.5 L1046.7,297.0 L1048.8,295.5 L1051.0,294.1 L1053.2,292.7 L1055.4,291.4 L1057.7,290.2 L1060.0,289.0 L1062.3,287.9 L1064.7,286.8 L1067.1,285.8 L1069.5,284.8 L1071.9,283.9 L1074.4,283.1 L1076.9,282.3 L1079.4,281.6 L1081.9,280.9 L1084.4,280.4 L1087.0,279.9 L1089.5,279.5 L1092.1,279.2 L1094.6,279.1 L1097.2,279.0 L1099.8,279.0 L1102.3,279.1 L1104.9,279.4 L1107.4,279.7 L1110.0,280.1 L1112.5,280.7 L1115.0,281.3 L1117.5,282.0 L1119.9,282.8 L1122.4,283.6 L1124.8,284.6 L1127.2,285.6 L1129.5,286.7 L1131.8,287.9 L1134.1,289.1 L1136.4,290.4 L1138.6,291.7 L1140.8,293.1 L1143.0,294.6 L1145.1,296.1 L1147.2,297.6 L1149.3,299.1 L1151.4,300.7 L1153.4,302.3 L1155.4,304.0 L1157.4,305.7 L1159.4,307.4 L1161.3,309.1 L1163.3,310.8 L1165.1,312.6 L1167.0,314.4 L1168.9,316.2 L1170.7,318.1 L1172.5,320.0 L1174.3,321.8 L1176.0,323.8 L1177.7,325.7 L1179.4,327.6 L1181.1,329.6 L1182.8,331.6 L1184.4,333.6 L1186.1,335.6 L1187.6,337.7 L1189.2,339.7 L1190.8,341.8 L1192.3,343.9 L1193.8,346.0 L1195.3,348.1 L1196.8,350.3 L1198.3,352.4 L1199.7,354.6 L1201.1,356.7 L1202.5,358.9 L1203.9,361.1 L1205.2,363.4 L1206.5,365.6 L1207.8,367.8 L1209.1,370.1 L1210.4,372.3 L1211.7,374.6 L1212.9,376.9 L1214.1,379.2 L1215.3,381.5 L1216.5,383.8 L1217.7,386.1 L1218.8,388.4 L1220.0,390.7 L1221.1,393.1 L1222.2,395.4 L1223.3,397.8 L1224.3,400.1 L1225.4,402.5 L1226.5,404.9 L1227.5,407.3 L1228.5,409.6 L1229.5,412.0 L1230.6,414.4 L1231.5,416.8 L1232.5,419.2 L1233.5,421.6 L1234.5,424.0 L1235.4,426.4 L1236.4,428.8 L1237.3,431.3 L1238.2,433.7 L1239.1,436.1 L1240.1,438.5 L1241.0,441.0 L1241.8,443.4 L1242.7,445.8 L1243.6,448.3 L1244.5,450.7 L1245.3,453.2 L1246.2,455.6 L1247.0,458.1 L1247.8,460.5 L1248.7,463.0 L1249.5,465.5 L1250.3,467.9 L1251.1,470.4 L1251.9,472.9 L1252.7,475.3 L1253.4,477.8 L1254.2,480.3 L1255.0,482.8 L1255.7,485.2 L1256.5,487.7 L1257.2,490.2 L1258.0,492.7 L1258.7,495.2 L1259.5,497.7 L1260.2,500.1 L1260.9,502.6 L1261.7,505.1 L1262.4,507.6 L1263.1,510.1 L1263.8,512.6 L1264.6,515.1 L1265.3,517.6 L1266.0,520.1 L1266.7,522.6 L1267.4,525.1 L1268.1,527.6 L1268.8,530.0 L1269.5,532.5 L1270.2,535.0 L1270.9,537.5 L1271.6,540.0 L1272.3,542.5 L1273.0,545.0 L1273.7,547.5 L1274.4,550.0 L1275.0,552.5 L1275.7,555.0 L1276.4,557.5 L1277.1,560.1 L1277.7,562.6 L1278.4,565.1 L1279.1,567.6 L1279.7,570.1 L1280.4,572.6 L1281.1,575.1 L1281.7,577.6 L1282.4,580.1 L1283.0,582.6 L1283.7,585.1 L1284.3,587.7 L1284.9,590.2 L1285.6,592.7 L1286.2,595.2 L1286.8,597.7 L1287.5,600.2 L1288.1,602.7 L1288.7,605.3 L1289.3,607.8 L1289.9,610.3 L1290.6,612.8 L1291.2,615.3 L1291.8,617.9 L1292.4,620.4 L1293.0,622.9 L1293.6,625.4 L1294.2,628.0 L1294.7,630.5 L1295.3,633.0 L1295.9,635.5 L1296.5,638.1 L1297.1,640.6 L1297.6,643.1 L1298.2,645.7 L1298.8,648.2 L1299.3,650.7 L1299.9,653.2 L1300.4,655.8 L1301.0,658.3 L1301.5,660.8 L1302.1,663.4 L1302.6,665.9 L1303.2,668.5 L1303.7,671.0 L1304.2,673.5 L1304.8,676.1 L1305.3,678.6 L1305.8,681.1 L1306.3,683.7 L1306.9,686.2 L1307.4,688.8 L1307.9,691.3 L1308.4,693.8 L1308.9,696.4 L1309.5,698.9 L1310.0,701.5 L1310.5,704.0 L1311.0,706.6 L1311.5,709.1 L1312.0,711.6 L1312.5,714.2 L1313.0,716.7 L1313.5,719.3 L1314.1,721.8 L1314.6,724.4 L1315.1,726.9 L1315.6,729.4 L1316.1,732.0 L1316.6,734.5 L1317.1,737.1 L1317.6,739.6 L1318.1,742.2 L1318.7,744.7 L1319.2,747.2 L1319.7,749.8 L1320.2,752.3 L1320.7,754.9 L1321.3,757.4 L1321.8,759.9 L1322.4,762.5 L1322.9,765.0 L1323.4,767.5 L1324.0,770.1 L1324.6,772.6 L1325.1,775.1 L1325.7,777.7 L1326.3,780.2 L1326.8,782.7 L1327.4,785.2 L1328.0,787.8 L1328.6,790.3 L1329.2,792.8 L1329.8,795.3 L1330.4,797.8 L1331.1,800.3 L1331.7,802.9 L1332.3,805.4 L1333.0,807.9 L1333.6,810.4 L1334.3,812.9 L1335.0,815.4 L1335.6,817.9 L1336.3,820.4 L1337.0,822.9 L1337.8,825.5 L1338.5,828.0 L1339.3,830.6 L1340.0,833.1 L1340.8,835.7 L1341.7,838.3 L1342.6,840.8 L1343.5,843.4 L1344.6,845.9 L1345.7,848.4 L1346.9,850.8 L1348.2,853.0 L1349.6,855.1 L1351.2,856.8 L1352.9,858.2 L1354.7,859.2 L1356.6,859.6 L1358.5,859.4 L1360.4,858.7 L1362.1,857.4 L1363.7,855.8 L1365.2,853.9 L1366.6,851.7 L1367.9,849.4 L1369.0,846.9 L1370.1,844.4 L1371.0,841.9 L1372.0,839.3 L1372.8,836.7 L1373.7,834.2 L1374.4,831.6 L1375.2,829.0 L1375.9,826.5 L1376.7,823.9 L1377.4,821.4 L1378.1,818.9 L1378.8,816.4 L1379.4,813.9 L1380.1,811.4 L1380.8,808.9 L1381.4,806.4 L1382.0,803.9 L1382.7,801.4 L1383.3,798.8 L1383.9,796.3 L1384.5,793.8 L1385.1,791.3 L1385.7,788.8 L1386.3,786.3 L1386.9,783.7 L1387.5,781.2 L1388.1,778.7 L1388.6,776.1 L1389.2,773.6 L1389.8,771.1 L1390.3,768.6 L1390.9,766.0 L1391.4,763.5 L1392.0,760.9 L1392.5,758.4 L1393.1,755.9 L1393.6,753.3 L1394.2,750.8 L1394.7,748.3 L1395.2,745.7 L1395.7,743.2 L1396.3,740.6 L1396.8,738.1 L1397.3,735.6 L1397.8,733.0 L1398.2,730.5 L1398.7,727.9 L1399.2,725.4 L1399.6,722.8 L1400.0,720.3 L1400.5,717.7 L1400.9,715.1 L1401.3,712.6 L1401.7,710.0 L1402.1,707.4 L1402.4,704.9 L1402.8,702.3 L1403.2,699.7 L1403.5,697.2 L1403.9,694.6 L1404.3,692.0 L1404.6,689.5 L1405.0,686.9 L1405.3,684.3 L1405.7,681.8 L1406.0,679.2 L1406.4,676.6 L1406.7,674.1 L1407.1,671.5 L1407.4,668.9 L1407.8,666.4 L1408.2,663.8 L1408.5,661.2 L1408.9,658.7 L1409.3,656.1 L1409.7,653.5 L1410.1,651.0 L1410.5,648.4 L1411.0,645.9 L1411.4,643.3 L1411.9,640.8 L1412.3,638.2 L1412.8,635.7 L1413.3,633.1 L1413.7,630.6 L1414.2,628.0 L1414.7,625.5 L1415.2,622.9 L1415.8,620.4 L1416.3,617.9 L1416.8,615.3 L1417.3,612.8 L1417.9,610.2 L1418.4,607.7 L1418.9,605.2 L1419.5,602.6 L1420.0,600.1 L1420.6,597.6 L1421.2,595.0 L1421.7,592.5 L1422.3,590.0 L1422.8,587.4 L1423.4,584.9 L1424.0,582.4 L1424.5,579.9 L1425.1,577.3 L1425.7,574.8 L1426.2,572.3 L1426.8,569.7 L1427.4,567.2 L1427.9,564.7 L1428.5,562.1 L1429.0,559.6 L1429.6,557.1 L1430.1,554.5 L1430.7,552.0 L1431.2,549.4 L1431.7,546.9 L1432.3,544.4 L1432.8,541.8 L1433.3,539.3 L1433.8,536.8 L1434.4,534.2 L1434.9,531.7 L1435.4,529.1 L1435.9,526.6 L1436.4,524.0 L1436.9,521.5 L1437.5,519.0 L1438.0,516.4 L1438.5,513.9 L1439.0,511.3 L1439.5,508.8 L1440.0,506.2 L1440.5,503.7 L1441.0,501.1 L1441.5,498.6 L1442.0,496.1 L1442.5,493.5 L1443.0,491.0 L1443.5,488.4 L1444.0,485.9 L1444.5,483.3 L1445.0,480.8 L1445.5,478.2 L1446.0,475.7 L1446.5,473.1 L1447.0,470.6 L1447.5,468.1 L1448.0,465.5 L1448.5,463.0 L1449.0,460.4 L1449.5,457.9 L1450.0,455.3 L1450.5,452.8 L1451.0,450.3 L1451.5,447.7 L1452.0,445.2 L1452.6,442.6 L1453.1,440.1 L1453.6,437.6 L1454.1,435.0 L1454.7,432.5 L1455.2,429.9 L1455.8,427.4 L1456.3,424.9 L1456.9,422.3 L1457.5,419.8 L1458.0,417.3 L1458.6,414.8 L1459.2,412.2 L1459.8,409.7 L1460.4,407.2 L1461.0,404.7 L1461.6,402.2 L1462.2,399.6 L1462.9,397.1 L1463.5,394.6 L1464.2,392.1 L1464.8,389.6 L1465.5,387.1 L1466.2,384.6 L1466.8,382.1 L1467.5,379.6 L1468.2,377.1 L1468.9,374.6 L1469.6,372.1 L1470.3,369.6 L1471.0,367.1 L1471.7,364.6 L1472.5,362.1 L1473.2,359.6 L1473.9,357.1 L1474.6,354.7 L1475.3,352.2 L1476.1,349.7 L1476.8,347.2 L1477.5,344.7 L1478.3,342.2 L1479.0,339.7 L1479.8,337.2 L1480.5,334.8 L1481.3,332.3 L1482.0,329.8 L1482.8,327.3 L1483.6,324.9 L1484.4,322.4 L1485.2,319.9 L1486.0,317.5 L1486.8,315.0 L1487.7,312.5 L1488.5,310.1 L1489.3,307.6 L1490.2,305.2 L1491.1,302.7 L1492.0,300.3 L1492.9,297.9 L1493.8,295.4 L1494.7,293.0 L1495.6,290.6 L1496.6,288.2 L1497.5,285.8 L1498.5,283.4 L1499.5,281.0 L1500.5,278.6 L1501.6,276.2 L1502.6,273.8 L1503.7,271.5 L1504.8,269.1 L1505.9,266.8 L1507.0,264.4 L1508.1,262.1 L1509.3,259.8 L1510.5,257.5 L1511.7,255.2 L1512.9,252.9 L1514.2,250.6 L1515.4,248.4 L1516.7,246.1 L1518.1,243.9 L1519.4,241.7 L1520.8,239.5 L1522.2,237.3 L1523.6,235.1 L1525.0,232.9 L1526.5,230.8 L1528.0,228.7 L1529.5,226.6 L1531.0,224.5 L1532.6,222.4 L1534.2,220.4 L1535.8,218.3 L1537.4,216.3 L1539.1,214.3 L1540.7,212.3 L1542.4,210.4 L1544.2,208.4 L1545.9,206.5 L1547.7,204.6 L1549.5,202.8 L1551.3,200.9 L1553.2,199.1 L1555.0,197.3 L1556.9,195.5 L1558.9,193.8 L1560.8,192.1 L1562.8,190.4 L1564.7,188.7 L1566.7,187.1 L1568.8,185.4 L1570.8,183.8 L1572.9,182.3 L1575.0,180.7 L1577.1,179.2 L1579.2,177.7 L1581.3,176.2 L1583.5,174.8 L1585.7,173.4 L1587.9,172.0 L1590.1,170.7 L1592.3,169.4 L1594.5,168.1 L1596.8,166.8 L1599.1,165.6 L1601.4,164.4 L1603.7,163.2 L1606.0,162.0 L1608.3,160.9 L1610.7,159.7 L1613.0,158.7 L1615.4,157.6 L1617.8,156.5 L1620.2,155.5 L1622.5,154.5 L1624.9,153.5 L1627.4,152.5 L1629.8,151.6 L1632.2,150.7 L1634.6,149.8 L1637.1,148.9 L1639.5,148.0 L1642.0,147.1 L1644.4,146.3 L1646.9,145.5 L1649.3,144.7 L1651.8,143.9 L1654.3,143.1 L1656.8,142.3 L1659.2,141.6 L1661.7,140.9 L1664.2,140.1 L1666.7,139.4 L1669.2,138.8 L1671.7,138.1 L1674.2,137.4 L1676.8,136.8 L1679.3,136.1 L1681.8,135.5 L1684.3,134.9 L1686.8,134.3 L1689.4,133.8 L1691.9,133.2 L1694.4,132.7 L1697.0,132.1 L1699.5,131.6 L1702.1,131.1 L1704.6,130.6 L1707.2,130.1 L1709.7,129.7 L1712.3,129.2 L1714.8,128.8 L1717.4,128.4 L1719.9,128.0 L1722.5,127.6 L1725.1,127.2 L1727.6,126.8 L1730.2,126.5 L1732.8,126.2 L1735.4,125.8 L1737.9,125.5 L1740.5,125.3 L1743.1,125.0 L1745.7,124.8 L1748.2,124.5 L1750.8,124.3 L1753.4,124.1 L1756.0,123.9 L1758.6,123.7 L1761.1,123.6 L1763.7,123.4 L1766.3,123.3 L1768.9,123.2 L1771.5,123.0 L1774.1,122.9 L1776.7,122.9 L1779.3,122.8 L1781.9,122.7 L1784.4,122.6 L1787.0,122.6 L1789.6,122.5 L1792.2,122.5 L1794.8,122.5 L1797.4,122.4 L1800.0,122.4 L1802.6,122.4 L1805.2,122.4 L1807.8,122.4 L1810.3,122.4 L1812.9,122.4 L1815.5,122.4 L1818.1,122.4 L1820.7,122.4 L1823.3,122.4 L1825.9,122.4 L1828.5,122.5 L1831.1,122.5 L1833.7,122.5 L1836.3,122.6 L1838.8,122.7 L1841.4,122.7 L1844.0,122.8 L1846.6,122.9 L1849.2,123.0 L1851.8,123.2 L1854.4,123.3 L1857.0,123.4 L1859.6,123.6 L1862.1,123.7 L1864.7,123.9 L1867.3,124.1 L1869.9,124.3 L1872.5,124.5 L1875.1,124.7 L1877.6,125.0 L1880.2,125.2 L1882.8,125.5 L1885.4,125.7 L1888.0,126.0 L1890.5,126.3 L1893.1,126.6 L1895.7,126.9 L1898.3,127.2 L1900.8,127.6 L1903.4,127.9 L1906.0,128.3 L1908.5,128.6 L1911.1,129.0 L1913.7,129.4 L1916.2,129.8 L1918.8,130.2 L1921.4,130.6 L1923.9,131.0 L1926.5,131.4 L1929.0,131.8 L1931.6,132.2 L1934.2,132.7 L1936.7,133.1 L1939.3,133.6 L1941.8,134.1 L1944.4,134.5 L1946.9,135.0 L1949.5,135.5 L1952.0,136.0 L1954.6,136.5 L1957.1,137.1 L1959.6,137.6 L1962.2,138.1 L1964.7,138.7 L1967.2,139.2 L1969.8,139.8 L1972.3,140.4 L1974.8,141.0 L1977.4,141.6 L1979.9,142.2 L1982.4,142.8 L1984.9,143.4 L1987.4,144.1 L1989.9,144.7 L1992.5,145.4 L1995.0,146.0 L1997.5,146.7 L2000.0,147.4 L2002.5,148.1 L2005.0,148.8 L2007.5,149.5 L2010.0,150.2 L2012.5,150.9 L2014.9,151.7 L2017.4,152.4 L2019.9,153.2 L2022.4,154.0 L2024.8,154.8 L2027.3,155.6 L2029.8,156.4 L2032.2,157.2 L2034.7,158.1 L2037.1,158.9 L2039.6,159.8 L2042.0,160.7 L2044.4,161.6 L2046.9,162.5 L2049.3,163.4 L2051.7,164.3 L2054.1,165.3 L2056.5,166.3 L2058.9,167.2 L2061.3,168.2 L2063.7,169.2 L2066.1,170.3 L2068.5,171.3 L2070.8,172.4 L2073.2,173.4 L2075.6,174.5 L2077.9,175.6 L2080.3,176.8 L2082.6,177.9 L2084.9,179.0 L2087.2,180.2 L2089.5,181.4 L2091.8,182.6 L2094.1,183.8 L2096.4,185.0 L2098.7,186.3 L2101.0,187.5 L2103.2,188.8 L2105.5,190.1 L2107.7,191.4 L2109.9,192.7 L2112.2,194.1 L2114.4,195.4 L2116.6,196.8 L2118.8,198.2 L2120.9,199.6 L2123.1,201.1 L2125.3,202.5 L2127.4,204.0 L2129.6,205.4 L2131.7,206.9 L2133.8,208.4 L2135.9,210.0 L2138.0,211.5 L2140.0,213.1 L2142.1,214.6 L2144.2,216.2 L2146.2,217.8 L2148.2,219.5 L2150.2,221.1 L2152.2,222.8 L2154.2,224.4 L2156.2,226.1 L2158.1,227.8 L2160.0,229.6 L2162.0,231.3 L2163.9,233.1 L2165.7,234.8 L2167.6,236.6 L2169.5,238.5 L2171.3,240.3 L2173.1,242.1 L2174.9,244.0 L2176.7,245.9 L2178.5,247.8 L2180.2,249.7 L2181.9,251.6 L2183.6,253.6 L2185.3,255.5 L2187.0,257.5 L2188.7,259.5 L2190.3,261.5 L2191.9,263.5 L2193.5,265.5 L2195.1,267.6 L2196.7,269.7 L2198.2,271.7 L2199.7,273.8 L2201.2,275.9 L2202.7,278.0 L2204.2,280.2 L2205.7,282.3 L2207.1,284.5 L2208.5,286.6 L2210.0,288.8 L2211.4,291.0 L2212.7,293.2 L2214.1,295.3 L2215.5,297.5 L2216.9,299.7 L2218.2,301.9 L2219.6,304.2 L2220.9,306.4"/>
</g>
<rect x="1675.6" y="432.1" width="480.6" height="369.0" fill="#fff" stroke="#222222" stroke-width="5.4"/>
<path d="M1684.2,496.0 h80" stroke="#0072C2" stroke-width="8.3" fill="none"/>
<g font-size="73.5" fill="#000"><text x="1769.9" y="507.4">D</text><text x="1824.4" y="544.2" font-size="59">s</text><text transform="translate(1845.8,503.8) scale(1.19,0.86)">=</text><text x="1892.6" y="507.4">0.21</text><text x="2044.4" y="507.4">μm</text></g>
<path d="M1684.2,616.9 h80" stroke="#FA500A" stroke-width="8.3" fill="none"/>
<g font-size="73.5" fill="#000"><text x="1769.9" y="627.8">D</text><text x="1824.4" y="664.6" font-size="59">s</text><text transform="translate(1845.8,624.2) scale(1.19,0.86)">=</text><text x="1892.6" y="627.8">0.19</text><text x="2044.4" y="627.8">μm</text></g>
<path d="M1684.2,736.9 h80" stroke="#FFB000" stroke-width="8.3" fill="none"/>
<g font-size="73.5" fill="#000"><text x="1769.9" y="747.1">D</text><text x="1824.4" y="783.9" font-size="59">s</text><text transform="translate(1845.8,743.5) scale(1.19,0.86)">=</text><text x="1892.6" y="747.1">0.17</text><text x="2044.4" y="747.1">μm</text></g>
<g stroke="#222222" stroke-width="5.5" fill="none" stroke-linecap="butt">
<rect x="353.0" y="1156.8" width="1871.4" height="811.1"/>
<path d="M820.9,1967.9 V1946.4 M820.9,1156.8 V1178.3"/>
<path d="M1288.7,1967.9 V1946.4 M1288.7,1156.8 V1178.3"/>
<path d="M1756.5,1967.9 V1946.4 M1756.5,1156.8 V1178.3"/>
<path d="M353.0,1832.7 H374.5 M2224.4,1832.7 H2202.9"/>
<path d="M353.0,1697.5 H374.5 M2224.4,1697.5 H2202.9"/>
<path d="M353.0,1562.4 H374.5 M2224.4,1562.4 H2202.9"/>
<path d="M353.0,1427.2 H374.5 M2224.4,1427.2 H2202.9"/>
<path d="M353.0,1292.0 H374.5 M2224.4,1292.0 H2202.9"/>
</g>
<g fill="#222222" font-size="80.8">
<text x="353.0" y="2062.9" text-anchor="middle">0.45</text>
<text x="820.9" y="2062.9" text-anchor="middle">0.55</text>
<text x="1288.7" y="2062.9" text-anchor="middle">0.65</text>
<text x="1756.5" y="2062.9" text-anchor="middle">0.75</text>
<text x="2224.4" y="2062.9" text-anchor="middle">0.85</text>
<text x="330" y="1996.1" text-anchor="end"><tspan font-size="88.5" fill="#000" dx="2.6" dy="7">−</tspan><tspan dx="-2.6" dy="-7">100</tspan></text>
<text x="332" y="1860.9" text-anchor="end">0</text>
<text x="332" y="1725.7" text-anchor="end">100</text>
<text x="332" y="1590.6" text-anchor="end">200</text>
<text x="332" y="1455.4" text-anchor="end">300</text>
<text x="332" y="1320.2" text-anchor="end">400</text>
<text x="332" y="1185.0" text-anchor="end">500</text>
</g>
<g fill="#222222" font-size="88.4">
<text x="1285.2" y="2162.4" text-anchor="middle">Wavelength (μm)</text>
<text transform="translate(159.5,1563.0) rotate(-90)" text-anchor="middle">Sensitivity</text>
</g>
<text x="22.2" y="1204.6" font-size="100" letter-spacing="-0.7" fill="#000">(b)</text>
<g fill="none" stroke-width="5.8" stroke-linejoin="round" stroke-linecap="butt">
<path stroke="#0072C2" d="M353.0,1832.8 L1400.0,1832.5 L1428.0,1830.5 L1445.0,1829.1 L1453.5,1824.9 L1457.8,1812.9 L1460.3,1787.3 L1462.9,1727.6 L1466.7,1649.2 L1468.9,1727.6 L1470.6,1795.9 L1472.3,1819.7 L1475.7,1829.1 L1480.8,1832.8 L2221.0,1832.8"/>
<path stroke="#FA500A" d="M353.0,1832.8 L1340.0,1832.5 L1371.6,1831.0 L1385.3,1830.0 L1395.5,1827.4 L1400.6,1819.7 L1404.0,1795.9 L1406.6,1761.8 L1407.8,1693.5 L1410.2,1214.7 L1412.6,1693.5 L1414.6,1778.8 L1416.0,1813.0 L1419.4,1828.3 L1424.5,1832.8 L2221.0,1832.8"/>
<path stroke="#FFB000" d="M353.0,1832.8 L1300.0,1832.5 L1334.0,1831.0 L1342.6,1828.3 L1347.8,1814.6 L1350.3,1778.8 L1352.0,1693.5 L1354.2,1577.9 L1356.3,1693.5 L1358.8,1787.3 L1362.3,1816.3 L1365.7,1830.0 L1371.6,1832.8 L2221.0,1832.8"/>
</g>
<rect x="1693.7" y="1225.7" width="480.6" height="366.7" fill="#fff" stroke="#222222" stroke-width="5.4"/>
<path d="M1702.3,1288.6 h80" stroke="#0072C2" stroke-width="5.8" fill="none"/>
<g font-size="73.5" fill="#000"><text x="1788.0" y="1298.9">D</text><text x="1842.5" y="1335.7" font-size="59">s</text><text transform="translate(1863.9,1295.3) scale(1.19,0.86)">=</text><text x="1910.7" y="1298.9">0.21</text><text x="2062.5" y="1298.9">μm</text></g>
<path d="M1702.3,1409.1 h80" stroke="#FA500A" stroke-width="5.8" fill="none"/>
<g font-size="73.5" fill="#000"><text x="1788.0" y="1419.3">D</text><text x="1842.5" y="1456.1" font-size="59">s</text><text transform="translate(1863.9,1415.7) scale(1.19,0.86)">=</text><text x="1910.7" y="1419.3">0.19</text><text x="2062.5" y="1419.3">μm</text></g>
<path d="M1702.3,1528.9 h80" stroke="#FFB000" stroke-width="5.8" fill="none"/>
<g font-size="73.5" fill="#000"><text x="1788.0" y="1539.7">D</text><text x="1842.5" y="1576.5" font-size="59">s</text><text transform="translate(1863.9,1536.1) scale(1.19,0.86)">=</text><text x="1910.7" y="1539.7">0.17</text><text x="2062.5" y="1539.7">μm</text></g>
</svg></body></html>
